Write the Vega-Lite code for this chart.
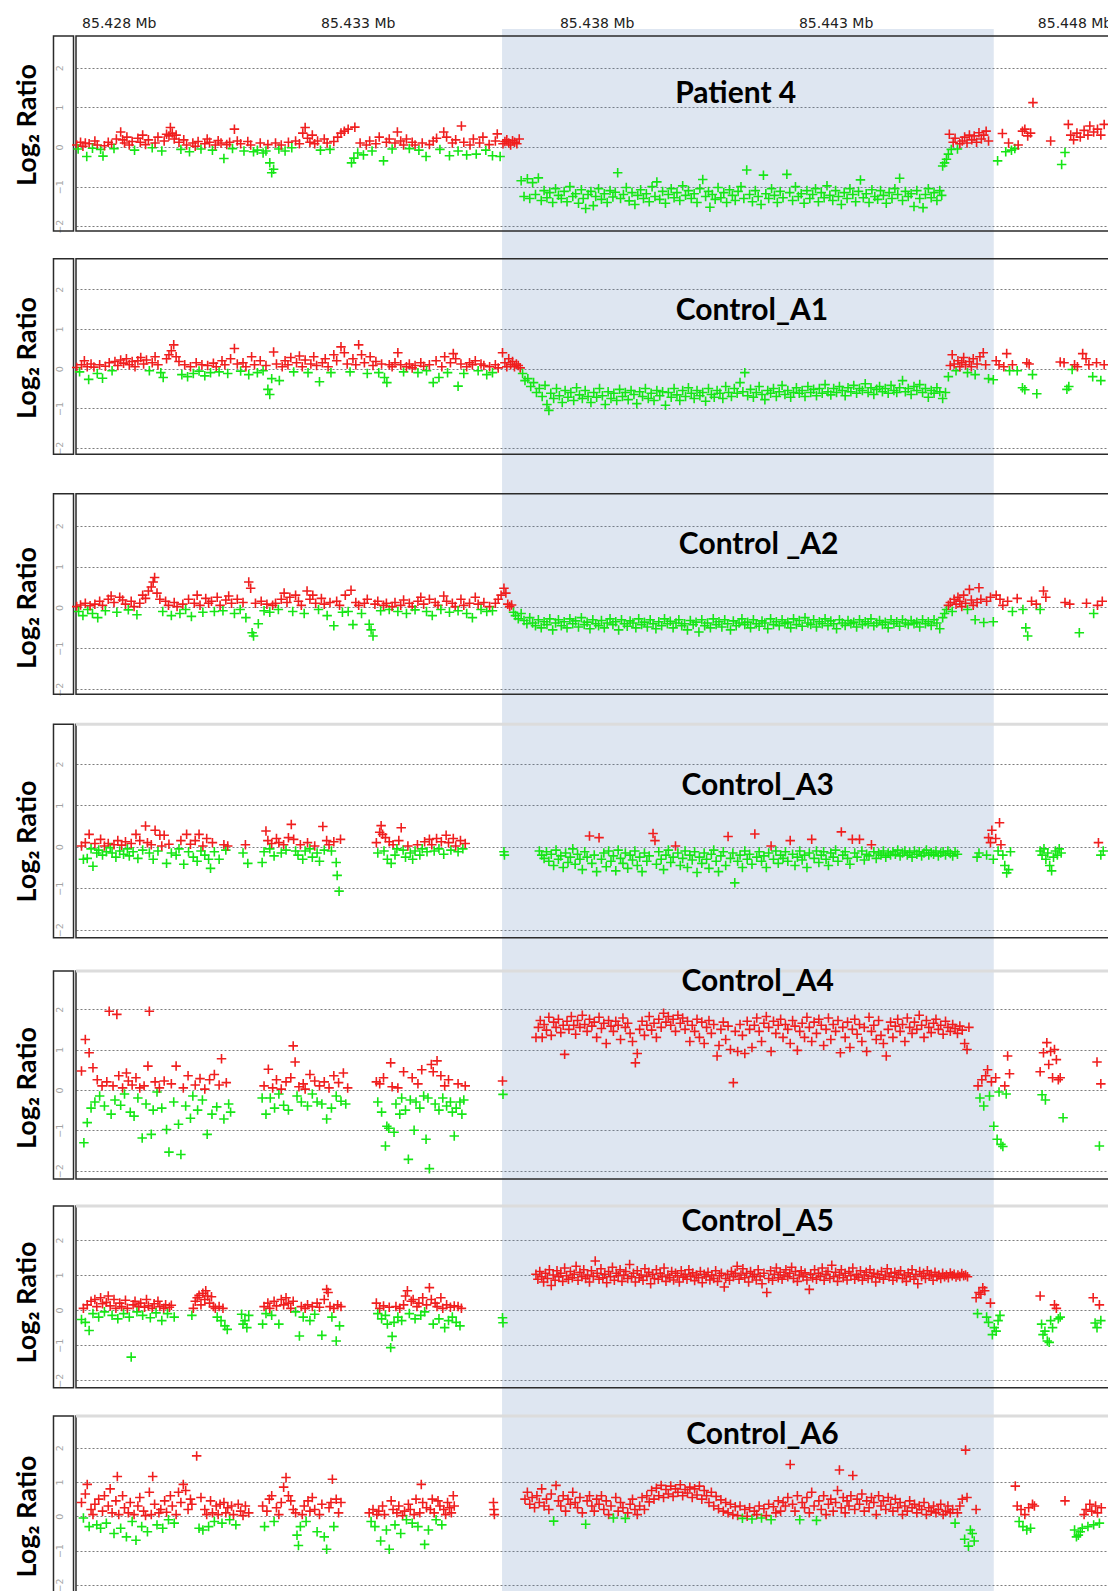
{
"$schema":"https://vega.github.io/schema/vega-lite/v6.json",
"padding":{"left":13,"top":16,"right":0,"bottom":0},
"spacing":0,
"bounds":"flush",
"config":{"view":{"stroke":null},
"axisY":{"grid":true,"gridDash":[2,2],"gridColor":"#7d7d7d","gridWidth":1,"domain":false,"ticks":false,"tickSize":0,"labelAngle":-90,"labelAlign":"center","labelBaseline":"alphabetic","labelPadding":13.3,"labelFont":"DejaVu Sans","labelFontSize":9.5,"labelColor":"#a3a3a3","titleFont":"Lato","titleFontSize":27,"titleFontWeight":"bold","titleColor":"#000000","titleAngle":-90,"titleBaseline":"alphabetic","titleAlign":"center"}},
"datasets":{
"p1":[{"x":85.42712,"y":0.05},{"x":85.42715,"y":-0.05},{"x":85.4272,"y":0.12},{"x":85.42725,"y":0.02},{"x":85.4273,"y":0.1},{"x":85.42733,"y":-0.24},{"x":85.42738,"y":0.08},{"x":85.42745,"y":-0.03},{"x":85.4275,"y":0.15},{"x":85.42755,"y":0.05},{"x":85.42762,"y":-0.06},{"x":85.42767,"y":-0.23},{"x":85.4277,"y":0.03},{"x":85.42778,"y":0.12},{"x":85.42785,"y":0.07},{"x":85.4279,"y":-0.04},{"x":85.42795,"y":0.2},{"x":85.42804,"y":0.38},{"x":85.42808,"y":0.18},{"x":85.42812,"y":0.1},{"x":85.42817,"y":0.25},{"x":85.42822,"y":0.05},{"x":85.42828,"y":0.14},{"x":85.42833,"y":-0.08},{"x":85.4284,"y":0.22},{"x":85.42845,"y":0.12},{"x":85.4285,"y":0.3},{"x":85.42856,"y":0.06},{"x":85.42862,"y":0.18},{"x":85.4287,"y":-0.02},{"x":85.42876,"y":0.1},{"x":85.42882,"y":0.25},{"x":85.4289,"y":-0.1},{"x":85.42895,"y":0.15},{"x":85.429,"y":0.32},{"x":85.42905,"y":0.28},{"x":85.42908,"y":0.49},{"x":85.42912,"y":0.35},{"x":85.42916,"y":0.2},{"x":85.4292,"y":0.3},{"x":85.42926,"y":0.12},{"x":85.4293,"y":-0.06},{"x":85.42936,"y":0.18},{"x":85.42942,"y":0.05},{"x":85.42948,"y":-0.12},{"x":85.42955,"y":0.1},{"x":85.4296,"y":0.02},{"x":85.42966,"y":0.14},{"x":85.42972,"y":-0.05},{"x":85.4298,"y":0.08},{"x":85.42985,"y":0.2},{"x":85.4299,"y":0.12},{"x":85.42996,"y":-0.08},{"x":85.43002,"y":0.05},{"x":85.43008,"y":0.16},{"x":85.43014,"y":0.1},{"x":85.4302,"y":-0.29},{"x":85.43026,"y":0.06},{"x":85.43032,"y":0.12},{"x":85.43038,"y":-0.04},{"x":85.43042,"y":0.45},{"x":85.43048,"y":0.15},{"x":85.43055,"y":0.08},{"x":85.43062,"y":-0.1},{"x":85.4307,"y":0.14},{"x":85.43076,"y":0.05},{"x":85.43082,"y":-0.12},{"x":85.4309,"y":-0.08},{"x":85.43096,"y":0.1},{"x":85.43102,"y":-0.15},{"x":85.43108,"y":-0.1},{"x":85.43112,"y":0.06},{"x":85.43116,"y":-0.4},{"x":85.4312,"y":-0.65},{"x":85.43124,"y":-0.56},{"x":85.43128,"y":0.1},{"x":85.43135,"y":-0.05},{"x":85.4314,"y":0.05},{"x":85.43148,"y":-0.1},{"x":85.43155,"y":0.12},{"x":85.43162,"y":-0.02},{"x":85.4317,"y":0.15},{"x":85.43178,"y":0.08},{"x":85.43185,"y":0.35},{"x":85.4319,"y":0.49},{"x":85.43195,"y":0.22},{"x":85.432,"y":0.12},{"x":85.43205,"y":0.3},{"x":85.4321,"y":0.08},{"x":85.43216,"y":0.15},{"x":85.43222,"y":-0.08},{"x":85.4323,"y":0.2},{"x":85.43236,"y":0.1},{"x":85.43242,"y":-0.06},{"x":85.4325,"y":0.14},{"x":85.43258,"y":0.25},{"x":85.43265,"y":0.35},{"x":85.43272,"y":0.4},{"x":85.4328,"y":0.45},{"x":85.43287,"y":-0.4},{"x":85.43292,"y":-0.28},{"x":85.43294,"y":0.5},{"x":85.433,"y":-0.15},{"x":85.43305,"y":0.1},{"x":85.43312,"y":-0.2},{"x":85.43318,"y":0.05},{"x":85.43325,"y":0.15},{"x":85.4333,"y":-0.1},{"x":85.43338,"y":0.08},{"x":85.43345,"y":0.25},{"x":85.43354,"y":-0.35},{"x":85.4336,"y":0.12},{"x":85.43366,"y":0.2},{"x":85.43372,"y":-0.05},{"x":85.43378,"y":0.1},{"x":85.43383,"y":0.38},{"x":85.4339,"y":0.15},{"x":85.43396,"y":0.05},{"x":85.43402,"y":0.2},{"x":85.43408,"y":-0.04},{"x":85.43414,"y":0.12},{"x":85.4342,"y":0.05},{"x":85.43428,"y":-0.08},{"x":85.43435,"y":0.1},{"x":85.43443,"y":-0.24},{"x":85.4345,"y":0.06},{"x":85.43458,"y":0.15},{"x":85.43465,"y":0.22},{"x":85.43472,"y":-0.06},{"x":85.4348,"y":0.38},{"x":85.43486,"y":0.25},{"x":85.43492,"y":-0.22},{"x":85.43498,"y":0.1},{"x":85.43505,"y":0.18},{"x":85.4351,"y":-0.1},{"x":85.43517,"y":0.53},{"x":85.43522,"y":0.12},{"x":85.43528,"y":-0.2},{"x":85.43535,"y":0.05},{"x":85.43542,"y":0.2},{"x":85.43548,"y":-0.18},{"x":85.43555,"y":0.1},{"x":85.43562,"y":0.25},{"x":85.43568,"y":-0.08},{"x":85.43575,"y":0.06},{"x":85.43582,"y":-0.22},{"x":85.43588,"y":0.15},{"x":85.43592,"y":0.33},{"x":85.43598,"y":-0.24},{"x":85.43604,"y":0.08},{"x":85.43608,"y":0.14},{"x":85.43612,"y":0.18},{"x":85.43616,"y":0.1},{"x":85.4362,"y":0.05},{"x":85.43624,"y":0.16},{"x":85.43628,"y":0.12},{"x":85.43633,"y":0.08},{"x":85.43638,"y":0.2},
{"x":85.43642,"y":-0.85},{"x":85.43648,"y":-1.25},{"x":85.43655,"y":-0.8},{"x":85.4366,"y":-1.3},{"x":85.43666,"y":-0.9},{"x":85.43672,"y":-1.2},{"x":85.43678,"y":-0.78},{"x":85.43684,"y":-1.35},{"x":85.4369,"y":-1.1},{"x":85.43696,"y":-1.28},{"x":85.43702,"y":-1.15},{"x":85.43708,"y":-1.4},{"x":85.43714,"y":-1.05},{"x":85.4372,"y":-1.22},{"x":85.43726,"y":-1.3},{"x":85.43732,"y":-1.12},{"x":85.43738,"y":-1.38},{"x":85.43744,"y":-1.0},{"x":85.4375,"y":-1.25},{"x":85.43756,"y":-1.18},{"x":85.43762,"y":-1.42},{"x":85.43768,"y":-1.08},{"x":85.43772,"y":-1.3},{"x":85.43777,"y":-1.55},{"x":85.43782,"y":-1.2},{"x":85.43788,"y":-1.12},{"x":85.43793,"y":-1.48},{"x":85.43798,"y":-1.25},{"x":85.43804,"y":-1.05},{"x":85.4381,"y":-1.32},{"x":85.43816,"y":-1.18},{"x":85.43822,"y":-1.4},{"x":85.43828,"y":-1.1},{"x":85.43834,"y":-1.26},{"x":85.43839,"y":-1.14},{"x":85.43844,"y":-0.65},{"x":85.4385,"y":-1.3},{"x":85.43856,"y":-1.2},{"x":85.43862,"y":-1.02},{"x":85.43868,"y":-1.36},{"x":85.43874,"y":-1.15},{"x":85.4388,"y":-1.45},{"x":85.43886,"y":-1.22},{"x":85.43892,"y":-1.08},{"x":85.43898,"y":-1.3},{"x":85.43904,"y":-1.18},{"x":85.4391,"y":-1.38},{"x":85.43916,"y":-1.0},{"x":85.43922,"y":-1.25},{"x":85.43926,"y":-0.88},{"x":85.43932,"y":-1.32},{"x":85.43938,"y":-1.12},{"x":85.43944,"y":-1.42},{"x":85.4395,"y":-1.2},{"x":85.43956,"y":-1.05},{"x":85.43962,"y":-1.28},{"x":85.43968,"y":-1.15},{"x":85.43974,"y":-1.35},{"x":85.4398,"y":-0.98},{"x":85.43986,"y":-1.22},{"x":85.43992,"y":-1.1},{"x":85.43998,"y":-1.3},{"x":85.44004,"y":-1.18},{"x":85.4401,"y":-1.4},{"x":85.44016,"y":-1.05},{"x":85.44022,"y":-0.82},{"x":85.44028,"y":-1.25},{"x":85.44034,"y":-1.12},{"x":85.44037,"y":-1.52},{"x":85.44042,"y":-1.2},{"x":85.44048,"y":-1.32},{"x":85.44054,"y":-1.02},{"x":85.4406,"y":-1.28},{"x":85.44066,"y":-1.15},{"x":85.44072,"y":-1.4},{"x":85.44078,"y":-1.08},{"x":85.44084,"y":-1.22},{"x":85.4409,"y":-1.35},{"x":85.44096,"y":-1.12},{"x":85.44102,"y":-1.0},{"x":85.44108,"y":-1.3},{"x":85.44114,"y":-0.58},{"x":85.4412,"y":-1.2},{"x":85.44126,"y":-1.38},{"x":85.44132,"y":-1.1},{"x":85.44138,"y":-1.25},{"x":85.44144,"y":-1.45},{"x":85.44149,"y":-0.71},{"x":85.44154,"y":-1.18},{"x":85.4416,"y":-1.3},{"x":85.44166,"y":-1.05},{"x":85.44172,"y":-1.22},{"x":85.44178,"y":-1.4},{"x":85.44184,"y":-1.12},{"x":85.4419,"y":-1.28},{"x":85.44198,"y":-0.69},{"x":85.44204,"y":-1.15},{"x":85.4421,"y":-1.35},{"x":85.44216,"y":-1.0},{"x":85.44222,"y":-1.25},{"x":85.44228,"y":-1.18},{"x":85.44234,"y":-1.42},{"x":85.4424,"y":-1.1},{"x":85.44246,"y":-1.3},{"x":85.44252,"y":-1.2},{"x":85.44258,"y":-1.05},{"x":85.44264,"y":-1.38},{"x":85.4427,"y":-1.15},{"x":85.44276,"y":-1.28},{"x":85.44282,"y":-0.98},{"x":85.44288,"y":-1.22},{"x":85.44294,"y":-1.35},{"x":85.443,"y":-1.1},{"x":85.44306,"y":-1.25},{"x":85.44312,"y":-1.45},{"x":85.44318,"y":-1.15},{"x":85.44324,"y":-1.3},{"x":85.4433,"y":-1.05},{"x":85.44336,"y":-1.2},{"x":85.44342,"y":-1.38},{"x":85.44348,"y":-1.12},{"x":85.44352,"y":-0.83},{"x":85.44358,"y":-1.28},{"x":85.44364,"y":-1.18},{"x":85.4437,"y":-1.4},{"x":85.44376,"y":-1.08},{"x":85.44382,"y":-1.25},{"x":85.44388,"y":-1.32},{"x":85.44394,"y":-1.1},{"x":85.444,"y":-1.22},{"x":85.44406,"y":-1.42},{"x":85.44412,"y":-1.15},{"x":85.44418,"y":-1.3},{"x":85.44424,"y":-1.05},{"x":85.4443,"y":-1.2},{"x":85.44434,"y":-0.79},{"x":85.4444,"y":-1.35},{"x":85.44446,"y":-1.12},{"x":85.44452,"y":-1.25},{"x":85.44458,"y":-1.18},{"x":85.44464,"y":-1.5},{"x":85.4447,"y":-1.1},{"x":85.44476,"y":-1.3},{"x":85.44483,"y":-1.53},{"x":85.44488,"y":-1.2},{"x":85.44494,"y":-1.05},{"x":85.445,"y":-1.28},{"x":85.44506,"y":-1.15},{"x":85.44512,"y":-1.35},{"x":85.44518,"y":-1.1},{"x":85.44522,"y":-1.22},
{"x":85.44524,"y":-0.48},{"x":85.44528,"y":-0.4},{"x":85.44532,"y":-0.31},{"x":85.44536,"y":-0.18},{"x":85.44538,"y":0.32},{"x":85.44542,"y":-0.06},{"x":85.44546,"y":0.12},{"x":85.4455,"y":0.22},{"x":85.44555,"y":-0.05},{"x":85.4456,"y":0.08},{"x":85.44565,"y":0.15},{"x":85.4457,"y":0.25},{"x":85.44575,"y":0.1},{"x":85.4458,"y":0.3},{"x":85.44585,"y":0.18},{"x":85.4459,"y":0.28},{"x":85.44595,"y":0.12},{"x":85.446,"y":0.36},{"x":85.44605,"y":0.2},{"x":85.4461,"y":0.3},{"x":85.44615,"y":0.4},{"x":85.4462,"y":0.15},{"x":85.44639,"y":-0.35},{"x":85.44649,"y":0.34},{"x":85.44656,"y":-0.12},{"x":85.44662,"y":0.1},{"x":85.44668,"y":-0.08},{"x":85.44675,"y":-0.04},{"x":85.44682,"y":0.05},{"x":85.44691,"y":0.4},{"x":85.44696,"y":0.45},{"x":85.44702,"y":0.28},{"x":85.44708,"y":0.35},{"x":85.44713,"y":1.12},{"x":85.4475,"y":0.15},{"x":85.44773,"y":-0.44},{"x":85.4478,"y":-0.14},{"x":85.44787,"y":0.57},{"x":85.44792,"y":0.3},{"x":85.44798,"y":0.18},{"x":85.44805,"y":0.35},{"x":85.44812,"y":0.25},{"x":85.4482,"y":0.42},{"x":85.44828,"y":0.3},{"x":85.44832,"y":0.53},{"x":85.4484,"y":0.38},{"x":85.44848,"y":0.45},{"x":85.44855,"y":0.3},{"x":85.44862,"y":0.57}],
"p2":[{"x":85.42712,"y":0.03},{"x":85.42718,"y":-0.08},{"x":85.42722,"y":0.1},{"x":85.42728,"y":0.2},{"x":85.42734,"y":0.05},{"x":85.42737,"y":-0.27},{"x":85.42742,"y":0.12},{"x":85.42748,"y":0.04},{"x":85.42755,"y":-0.12},{"x":85.4276,"y":0.1},{"x":85.42766,"y":-0.24},{"x":85.42772,"y":0.06},{"x":85.4278,"y":0.15},{"x":85.42786,"y":-0.05},{"x":85.42792,"y":0.18},{"x":85.42798,"y":0.08},{"x":85.42804,"y":0.22},{"x":85.4281,"y":0.14},{"x":85.42816,"y":0.25},{"x":85.42822,"y":0.1},{"x":85.42828,"y":0.18},{"x":85.42834,"y":0.05},{"x":85.4284,"y":0.2},{"x":85.42846,"y":0.28},{"x":85.42852,"y":0.12},{"x":85.42858,"y":0.22},{"x":85.42864,"y":-0.05},{"x":85.4287,"y":0.15},{"x":85.42876,"y":0.3},{"x":85.42882,"y":0.1},{"x":85.42888,"y":-0.1},{"x":85.42893,"y":-0.22},{"x":85.429,"y":0.25},{"x":85.42905,"y":0.35},{"x":85.4291,"y":0.45},{"x":85.42915,"y":0.6},{"x":85.4292,"y":0.3},{"x":85.42926,"y":0.18},{"x":85.42932,"y":-0.15},{"x":85.42938,"y":0.1},{"x":85.42944,"y":-0.2},{"x":85.4295,"y":0.05},{"x":85.42956,"y":-0.12},{"x":85.42962,"y":0.15},{"x":85.42968,"y":-0.06},{"x":85.42974,"y":0.1},{"x":85.4298,"y":-0.18},{"x":85.42986,"y":0.08},{"x":85.42992,"y":-0.1},{"x":85.42998,"y":0.14},{"x":85.43004,"y":0.05},{"x":85.4301,"y":-0.08},{"x":85.43016,"y":0.2},{"x":85.43022,"y":0.1},{"x":85.43028,"y":-0.12},{"x":85.43034,"y":0.25},{"x":85.43042,"y":0.51},{"x":85.43048,"y":0.12},{"x":85.43055,"y":-0.06},{"x":85.4306,"y":0.15},{"x":85.43066,"y":0.05},{"x":85.43072,"y":-0.15},{"x":85.43078,"y":0.3},{"x":85.43084,"y":0.1},{"x":85.4309,"y":-0.1},{"x":85.43096,"y":0.2},{"x":85.43102,"y":-0.05},{"x":85.43108,"y":0.08},{"x":85.43112,"y":-0.52},{"x":85.43116,"y":-0.65},{"x":85.4312,"y":-0.25},{"x":85.43124,"y":0.42},{"x":85.4313,"y":0.12},{"x":85.43136,"y":-0.3},{"x":85.43142,"y":0.05},{"x":85.43148,"y":0.2},{"x":85.43154,"y":0.1},{"x":85.4316,"y":0.28},{"x":85.43166,"y":-0.08},{"x":85.43172,"y":0.15},{"x":85.43178,"y":0.32},{"x":85.43184,"y":0.05},{"x":85.4319,"y":0.22},{"x":85.43196,"y":-0.1},{"x":85.43202,"y":0.12},{"x":85.43208,"y":0.3},{"x":85.43214,"y":0.08},{"x":85.4322,"y":-0.33},{"x":85.43226,"y":0.15},{"x":85.43232,"y":0.25},{"x":85.43238,"y":0.05},{"x":85.43244,"y":-0.1},{"x":85.4325,"y":0.35},{"x":85.43256,"y":0.2},{"x":85.43265,"y":0.55},{"x":85.43272,"y":0.4},{"x":85.43278,"y":0.12},{"x":85.43284,"y":-0.08},{"x":85.4329,"y":0.25},{"x":85.43296,"y":0.1},{"x":85.43302,"y":0.6},{"x":85.43308,"y":0.35},{"x":85.43314,"y":0.15},{"x":85.4332,"y":-0.12},{"x":85.43326,"y":0.3},{"x":85.43332,"y":0.08},{"x":85.43338,"y":0.18},{"x":85.43344,"y":-0.1},{"x":85.4335,"y":0.12},{"x":85.43356,"y":-0.22},{"x":85.43361,"y":-0.35},{"x":85.43366,"y":0.1},{"x":85.43372,"y":0.05},{"x":85.43378,"y":0.15},{"x":85.43384,"y":0.4},{"x":85.4339,"y":0.1},{"x":85.43396,"y":-0.08},{"x":85.43402,"y":0.05},{"x":85.43408,"y":0.12},{"x":85.43414,"y":0.02},{"x":85.4342,"y":0.08},{"x":85.43426,"y":-0.1},{"x":85.43432,"y":0.15},{"x":85.43438,"y":0.06},{"x":85.43444,"y":-0.05},{"x":85.4345,"y":0.1},{"x":85.43458,"y":-0.35},{"x":85.43464,"y":0.2},{"x":85.4347,"y":-0.22},{"x":85.43476,"y":0.05},{"x":85.43482,"y":0.3},{"x":85.43488,"y":-0.1},{"x":85.43494,"y":0.15},{"x":85.435,"y":0.38},{"x":85.43505,"y":0.25},{"x":85.4351,"y":-0.44},{"x":85.43516,"y":0.12},{"x":85.43522,"y":-0.12},{"x":85.43528,"y":0.05},{"x":85.43534,"y":0.15},{"x":85.4354,"y":0.1},{"x":85.43546,"y":0.2},{"x":85.43552,"y":-0.05},{"x":85.43558,"y":0.12},{"x":85.43564,"y":0.08},{"x":85.4357,"y":-0.15},{"x":85.43576,"y":0.05},{"x":85.43582,"y":-0.1},{"x":85.43588,"y":0.1},{"x":85.43594,"y":0.02},{"x":85.43603,"y":0.4},{"x":85.43608,"y":0.15},{"x":85.43612,"y":0.05},{"x":85.43616,"y":0.25},{"x":85.4362,"y":0.1},{"x":85.43624,"y":0.18},{"x":85.43628,"y":0.05},{"x":85.43632,"y":0.12},{"x":85.43636,"y":0.08},{"x":85.4364,"y":0.02},
{"x":85.43645,"y":-0.12},{"x":85.4365,"y":-0.3},{"x":85.43656,"y":-0.25},{"x":85.43662,"y":-0.45},{"x":85.43668,"y":-0.35},{"x":85.43674,"y":-0.6},{"x":85.4368,"y":-0.5},{"x":85.43686,"y":-0.7},{"x":85.43692,"y":-0.42},{"x":85.43696,"y":-0.9},{"x":85.437,"y":-1.05},{"x":85.43704,"y":-0.62},{"x":85.4371,"y":-0.75},{"x":85.43716,"y":-0.5},{"x":85.43722,"y":-0.68},{"x":85.43728,"y":-0.85},{"x":85.43734,"y":-0.55},{"x":85.4374,"y":-0.72},{"x":85.43746,"y":-0.6},{"x":85.43752,"y":-0.8},{"x":85.43758,"y":-0.48},{"x":85.43764,"y":-0.66},{"x":85.4377,"y":-0.75},{"x":85.43776,"y":-0.55},{"x":85.43782,"y":-0.7},{"x":85.43788,"y":-0.85},{"x":85.43794,"y":-0.6},{"x":85.438,"y":-0.72},{"x":85.43806,"y":-0.5},{"x":85.43812,"y":-0.68},{"x":85.43818,"y":-0.9},{"x":85.43824,"y":-0.58},{"x":85.4383,"y":-0.75},{"x":85.43836,"y":-0.62},{"x":85.43842,"y":-0.8},{"x":85.43848,"y":-0.52},{"x":85.43854,"y":-0.7},{"x":85.4386,"y":-0.6},{"x":85.43866,"y":-0.78},{"x":85.43872,"y":-0.55},{"x":85.43878,"y":-0.65},{"x":85.43884,"y":-0.88},{"x":85.4389,"y":-0.58},{"x":85.43896,"y":-0.7},{"x":85.43902,"y":-0.5},{"x":85.43908,"y":-0.75},{"x":85.43914,"y":-0.62},{"x":85.4392,"y":-0.8},{"x":85.43926,"y":-0.55},{"x":85.43932,"y":-0.68},{"x":85.43938,"y":-0.58},{"x":85.43944,"y":-0.92},{"x":85.4395,"y":-0.6},{"x":85.43956,"y":-0.72},{"x":85.43962,"y":-0.5},{"x":85.43968,"y":-0.66},{"x":85.43974,"y":-0.8},{"x":85.4398,"y":-0.55},{"x":85.43986,"y":-0.7},{"x":85.43992,"y":-0.48},{"x":85.43998,"y":-0.62},{"x":85.44004,"y":-0.75},{"x":85.4401,"y":-0.55},{"x":85.44016,"y":-0.68},{"x":85.44022,"y":-0.6},{"x":85.44028,"y":-0.82},{"x":85.44034,"y":-0.5},{"x":85.4404,"y":-0.65},{"x":85.44046,"y":-0.72},{"x":85.44052,"y":-0.55},{"x":85.44058,"y":-0.62},{"x":85.44064,"y":-0.75},{"x":85.4407,"y":-0.45},{"x":85.44076,"y":-0.6},{"x":85.44082,"y":-0.7},{"x":85.44088,"y":-0.5},{"x":85.44094,"y":-0.62},{"x":85.441,"y":-0.35},{"x":85.44106,"y":-0.58},{"x":85.4411,"y":-0.1},{"x":85.44116,"y":-0.68},{"x":85.44122,"y":-0.52},{"x":85.44128,"y":-0.72},{"x":85.44134,"y":-0.6},{"x":85.4414,"y":-0.45},{"x":85.44146,"y":-0.65},{"x":85.44152,"y":-0.78},{"x":85.44158,"y":-0.55},{"x":85.44164,"y":-0.62},{"x":85.4417,"y":-0.5},{"x":85.44176,"y":-0.7},{"x":85.44182,"y":-0.58},{"x":85.44188,"y":-0.42},{"x":85.44194,"y":-0.65},{"x":85.442,"y":-0.55},{"x":85.44206,"y":-0.72},{"x":85.44212,"y":-0.6},{"x":85.44218,"y":-0.48},{"x":85.44224,"y":-0.62},{"x":85.4423,"y":-0.55},{"x":85.44236,"y":-0.7},{"x":85.44242,"y":-0.45},{"x":85.44248,"y":-0.6},{"x":85.44254,"y":-0.52},{"x":85.4426,"y":-0.68},{"x":85.44266,"y":-0.5},{"x":85.44272,"y":-0.62},{"x":85.44278,"y":-0.4},{"x":85.44284,"y":-0.58},{"x":85.4429,"y":-0.66},{"x":85.44296,"y":-0.5},{"x":85.44302,"y":-0.6},{"x":85.44308,"y":-0.45},{"x":85.44314,"y":-0.55},{"x":85.4432,"y":-0.68},{"x":85.44326,"y":-0.48},{"x":85.44332,"y":-0.58},{"x":85.44338,"y":-0.42},{"x":85.44344,"y":-0.62},{"x":85.4435,"y":-0.5},{"x":85.44356,"y":-0.55},{"x":85.44362,"y":-0.38},{"x":85.44368,"y":-0.6},{"x":85.44374,"y":-0.48},{"x":85.4438,"y":-0.65},{"x":85.44386,"y":-0.52},{"x":85.44392,"y":-0.45},{"x":85.44398,"y":-0.58},{"x":85.44404,"y":-0.5},{"x":85.4441,"y":-0.62},{"x":85.44416,"y":-0.42},{"x":85.44422,"y":-0.55},{"x":85.44428,"y":-0.6},{"x":85.44434,"y":-0.48},{"x":85.4444,"y":-0.3},{"x":85.44446,"y":-0.58},{"x":85.44452,"y":-0.5},{"x":85.44458,"y":-0.65},{"x":85.44464,"y":-0.45},{"x":85.4447,"y":-0.55},{"x":85.44476,"y":-0.4},{"x":85.44482,"y":-0.6},{"x":85.44488,"y":-0.5},{"x":85.44494,"y":-0.72},{"x":85.445,"y":-0.55},{"x":85.44506,"y":-0.62},{"x":85.44512,"y":-0.48},{"x":85.44518,"y":-0.58},{"x":85.44524,"y":-0.75},{"x":85.4453,"y":-0.6},
{"x":85.44536,"y":-0.2},{"x":85.4454,"y":0.08},{"x":85.44544,"y":0.35},{"x":85.44548,"y":0.12},{"x":85.44552,"y":-0.05},{"x":85.44556,"y":0.2},{"x":85.4456,"y":0.05},{"x":85.44564,"y":0.15},{"x":85.44568,"y":0.28},{"x":85.44572,"y":0.1},{"x":85.44576,"y":-0.1},{"x":85.4458,"y":0.18},{"x":85.44584,"y":0.05},{"x":85.44588,"y":0.25},{"x":85.44592,"y":-0.15},{"x":85.44596,"y":0.12},{"x":85.44602,"y":0.3},{"x":85.44609,"y":0.4},{"x":85.44614,"y":0.1},{"x":85.4462,"y":-0.25},{"x":85.4463,"y":-0.28},{"x":85.44636,"y":0.2},{"x":85.44642,"y":0.1},{"x":85.44652,"y":0.05},{"x":85.44658,"y":0.38},{"x":85.44664,"y":-0.05},{"x":85.4467,"y":0.1},{"x":85.4468,"y":-0.05},{"x":85.44691,"y":-0.48},{"x":85.44696,"y":-0.53},{"x":85.447,"y":0.15},{"x":85.44705,"y":0.12},{"x":85.44712,"y":-0.15},{"x":85.44721,"y":-0.63},{"x":85.4477,"y":0.17},{"x":85.44778,"y":0.15},{"x":85.44784,"y":-0.52},{"x":85.44788,"y":-0.45},{"x":85.44795,"y":-0.02},{"x":85.448,"y":0.1},{"x":85.44806,"y":0.05},{"x":85.44817,"y":0.38},{"x":85.44824,"y":0.25},{"x":85.4483,"y":0.1},{"x":85.44838,"y":-0.2},{"x":85.44846,"y":0.15},{"x":85.44855,"y":-0.3},{"x":85.44862,"y":0.1}],
"p3":[{"x":85.42712,"y":0.02},{"x":85.42716,"y":-0.1},{"x":85.4272,"y":0.06},{"x":85.42725,"y":-0.2},{"x":85.4273,"y":0.1},{"x":85.42735,"y":-0.05},{"x":85.4274,"y":0.04},{"x":85.42745,"y":-0.15},{"x":85.4275,"y":0.08},{"x":85.42756,"y":-0.25},{"x":85.4276,"y":0.15},{"x":85.42766,"y":0.05},{"x":85.42772,"y":-0.08},{"x":85.42778,"y":0.2},{"x":85.42784,"y":0.28},{"x":85.4279,"y":0.12},{"x":85.42796,"y":-0.12},{"x":85.42802,"y":0.25},{"x":85.42808,"y":0.18},{"x":85.42814,"y":0.08},{"x":85.4282,"y":-0.06},{"x":85.42826,"y":0.15},{"x":85.42832,"y":0.02},{"x":85.42838,"y":-0.18},{"x":85.42844,"y":0.1},{"x":85.4285,"y":0.3},{"x":85.42856,"y":0.22},{"x":85.42862,"y":0.4},{"x":85.42868,"y":0.5},{"x":85.42872,"y":0.62},{"x":85.42875,"y":0.73},{"x":85.4288,"y":0.35},{"x":85.42886,"y":0.2},{"x":85.42892,"y":-0.1},{"x":85.42898,"y":0.15},{"x":85.42904,"y":0.05},{"x":85.4291,"y":-0.2},{"x":85.42916,"y":0.12},{"x":85.42922,"y":0.02},{"x":85.42928,"y":-0.15},{"x":85.42934,"y":0.08},{"x":85.4294,"y":-0.05},{"x":85.42946,"y":0.2},{"x":85.42952,"y":-0.22},{"x":85.42958,"y":0.1},{"x":85.42964,"y":0.3},{"x":85.4297,"y":0.05},{"x":85.42976,"y":-0.12},{"x":85.42982,"y":0.22},{"x":85.42988,"y":0.1},{"x":85.42994,"y":0.15},{"x":85.43,"y":-0.1},{"x":85.43006,"y":0.25},{"x":85.43012,"y":0.05},{"x":85.43018,"y":-0.08},{"x":85.43024,"y":0.18},{"x":85.4303,"y":0.28},{"x":85.43036,"y":0.1},{"x":85.43042,"y":-0.15},{"x":85.43048,"y":0.2},{"x":85.43054,"y":-0.05},{"x":85.4306,"y":0.12},{"x":85.43066,"y":-0.25},{"x":85.43072,"y":0.62},{"x":85.43076,"y":0.47},{"x":85.43079,"y":-0.62},{"x":85.43082,"y":-0.7},{"x":85.43086,"y":0.1},{"x":85.43092,"y":-0.4},{"x":85.43098,"y":0.15},{"x":85.43104,"y":-0.08},{"x":85.4311,"y":0.08},{"x":85.43116,"y":-0.12},{"x":85.43122,"y":0.05},{"x":85.43128,"y":0.1},{"x":85.43134,"y":-0.05},{"x":85.4314,"y":0.2},{"x":85.43146,"y":0.35},{"x":85.43152,"y":0.12},{"x":85.43158,"y":0.25},{"x":85.43164,"y":-0.1},{"x":85.4317,"y":0.3},{"x":85.43176,"y":0.15},{"x":85.43182,"y":0.05},{"x":85.43188,"y":-0.15},{"x":85.43194,"y":0.4},{"x":85.432,"y":0.2},{"x":85.43206,"y":0.3},{"x":85.43212,"y":0.1},{"x":85.43218,"y":-0.05},{"x":85.43224,"y":0.22},{"x":85.4323,"y":0.08},{"x":85.43236,"y":-0.2},{"x":85.43242,"y":0.12},{"x":85.4325,"y":-0.45},{"x":85.43256,"y":0.15},{"x":85.43262,"y":0.05},{"x":85.43268,"y":-0.12},{"x":85.43274,"y":0.3},{"x":85.4328,"y":-0.1},{"x":85.43286,"y":0.42},{"x":85.4329,"y":-0.42},{"x":85.43296,"y":0.12},{"x":85.43302,"y":0.05},{"x":85.43308,"y":-0.15},{"x":85.43314,"y":0.1},{"x":85.4332,"y":0.2},{"x":85.43324,"y":-0.41},{"x":85.43328,"y":-0.55},{"x":85.43332,"y":-0.7},{"x":85.43336,"y":0.08},{"x":85.43342,"y":0.15},{"x":85.43348,"y":-0.08},{"x":85.43354,"y":0.05},{"x":85.4336,"y":0.1},{"x":85.43366,"y":-0.05},{"x":85.43372,"y":0.02},{"x":85.43378,"y":0.12},{"x":85.43384,"y":-0.1},{"x":85.4339,"y":0.05},{"x":85.43396,"y":0.18},{"x":85.43402,"y":-0.15},{"x":85.43408,"y":0.1},{"x":85.43414,"y":0.02},{"x":85.4342,"y":-0.06},{"x":85.43426,"y":0.15},{"x":85.43432,"y":0.25},{"x":85.43438,"y":0.08},{"x":85.43444,"y":-0.1},{"x":85.4345,"y":0.2},{"x":85.43456,"y":-0.2},{"x":85.43462,"y":0.12},{"x":85.43468,"y":0.05},{"x":85.43474,"y":-0.05},{"x":85.4348,"y":0.28},{"x":85.43486,"y":0.15},{"x":85.43492,"y":-0.12},{"x":85.43498,"y":0.1},{"x":85.43504,"y":0.02},{"x":85.4351,"y":-0.08},{"x":85.43516,"y":0.2},{"x":85.43522,"y":0.05},{"x":85.43528,"y":-0.15},{"x":85.43534,"y":0.1},{"x":85.4354,"y":-0.25},{"x":85.43546,"y":0.25},{"x":85.43552,"y":0.08},{"x":85.43558,"y":-0.05},{"x":85.43564,"y":0.12},{"x":85.4357,"y":-0.1},{"x":85.43576,"y":0.02},{"x":85.43582,"y":-0.08},{"x":85.43588,"y":0.1},{"x":85.43594,"y":0.2},{"x":85.436,"y":0.3},{"x":85.43606,"y":0.47},{"x":85.4361,"y":0.35},{"x":85.43614,"y":0.08},{"x":85.43618,"y":0.02},{"x":85.43622,"y":0.06},
{"x":85.43626,"y":-0.12},{"x":85.4363,"y":-0.2},{"x":85.43636,"y":-0.28},{"x":85.43642,"y":-0.15},{"x":85.43648,"y":-0.32},{"x":85.43654,"y":-0.4},{"x":85.4366,"y":-0.25},{"x":85.43666,"y":-0.38},{"x":85.43672,"y":-0.45},{"x":85.43678,"y":-0.3},{"x":85.43684,"y":-0.5},{"x":85.4369,"y":-0.35},{"x":85.43696,"y":-0.42},{"x":85.43702,"y":-0.28},{"x":85.43708,"y":-0.55},{"x":85.43714,"y":-0.38},{"x":85.4372,"y":-0.3},{"x":85.43726,"y":-0.45},{"x":85.43732,"y":-0.35},{"x":85.43738,"y":-0.5},{"x":85.43744,"y":-0.28},{"x":85.4375,"y":-0.4},{"x":85.43756,"y":-0.33},{"x":85.43762,"y":-0.48},{"x":85.43768,"y":-0.25},{"x":85.43774,"y":-0.42},{"x":85.4378,"y":-0.36},{"x":85.43786,"y":-0.52},{"x":85.43792,"y":-0.3},{"x":85.43798,"y":-0.4},{"x":85.43804,"y":-0.45},{"x":85.4381,"y":-0.32},{"x":85.43816,"y":-0.5},{"x":85.43822,"y":-0.38},{"x":85.43828,"y":-0.28},{"x":85.43834,"y":-0.42},{"x":85.4384,"y":-0.35},{"x":85.43846,"y":-0.55},{"x":85.43852,"y":-0.3},{"x":85.43858,"y":-0.4},{"x":85.43864,"y":-0.46},{"x":85.4387,"y":-0.33},{"x":85.43876,"y":-0.38},{"x":85.43882,"y":-0.5},{"x":85.43888,"y":-0.28},{"x":85.43894,"y":-0.42},{"x":85.439,"y":-0.36},{"x":85.43906,"y":-0.48},{"x":85.43912,"y":-0.3},{"x":85.43918,"y":-0.4},{"x":85.43924,"y":-0.52},{"x":85.4393,"y":-0.35},{"x":85.43936,"y":-0.45},{"x":85.43942,"y":-0.28},{"x":85.43948,"y":-0.4},{"x":85.43954,"y":-0.34},{"x":85.4396,"y":-0.5},{"x":85.43966,"y":-0.38},{"x":85.43972,"y":-0.3},{"x":85.43978,"y":-0.45},{"x":85.43984,"y":-0.4},{"x":85.4399,"y":-0.55},{"x":85.43996,"y":-0.32},{"x":85.44002,"y":-0.42},{"x":85.44008,"y":-0.36},{"x":85.44014,"y":-0.6},{"x":85.4402,"y":-0.3},{"x":85.44026,"y":-0.45},{"x":85.44032,"y":-0.38},{"x":85.44038,"y":-0.5},{"x":85.44044,"y":-0.28},{"x":85.4405,"y":-0.42},{"x":85.44056,"y":-0.35},{"x":85.44062,"y":-0.48},{"x":85.44068,"y":-0.3},{"x":85.44074,"y":-0.4},{"x":85.4408,"y":-0.55},{"x":85.44086,"y":-0.33},{"x":85.44092,"y":-0.45},{"x":85.44098,"y":-0.38},{"x":85.44104,"y":-0.28},{"x":85.4411,"y":-0.42},{"x":85.44116,"y":-0.36},{"x":85.44122,"y":-0.5},{"x":85.44128,"y":-0.3},{"x":85.44134,"y":-0.4},{"x":85.4414,"y":-0.46},{"x":85.44146,"y":-0.33},{"x":85.44152,"y":-0.38},{"x":85.44158,"y":-0.52},{"x":85.44164,"y":-0.28},{"x":85.4417,"y":-0.42},{"x":85.44176,"y":-0.35},{"x":85.44182,"y":-0.45},{"x":85.44188,"y":-0.3},{"x":85.44194,"y":-0.4},{"x":85.442,"y":-0.36},{"x":85.44206,"y":-0.5},{"x":85.44212,"y":-0.28},{"x":85.44218,"y":-0.42},{"x":85.44224,"y":-0.32},{"x":85.4423,"y":-0.46},{"x":85.44236,"y":-0.25},{"x":85.44242,"y":-0.38},{"x":85.44248,"y":-0.42},{"x":85.44254,"y":-0.3},{"x":85.4426,"y":-0.48},{"x":85.44266,"y":-0.35},{"x":85.44272,"y":-0.4},{"x":85.44278,"y":-0.28},{"x":85.44284,"y":-0.45},{"x":85.4429,"y":-0.33},{"x":85.44296,"y":-0.4},{"x":85.44302,"y":-0.52},{"x":85.44308,"y":-0.3},{"x":85.44314,"y":-0.38},{"x":85.4432,"y":-0.44},{"x":85.44326,"y":-0.32},{"x":85.44332,"y":-0.4},{"x":85.44338,"y":-0.36},{"x":85.44344,"y":-0.48},{"x":85.4435,"y":-0.3},{"x":85.44356,"y":-0.42},{"x":85.44362,"y":-0.35},{"x":85.44368,"y":-0.4},{"x":85.44374,"y":-0.28},{"x":85.4438,"y":-0.45},{"x":85.44386,"y":-0.38},{"x":85.44392,"y":-0.32},{"x":85.44398,"y":-0.42},{"x":85.44404,"y":-0.36},{"x":85.4441,"y":-0.5},{"x":85.44416,"y":-0.3},{"x":85.44422,"y":-0.4},{"x":85.44428,"y":-0.35},{"x":85.44434,"y":-0.46},{"x":85.4444,"y":-0.3},{"x":85.44446,"y":-0.38},{"x":85.44452,"y":-0.42},{"x":85.44458,"y":-0.32},{"x":85.44464,"y":-0.4},{"x":85.4447,"y":-0.36},{"x":85.44476,"y":-0.48},{"x":85.44482,"y":-0.3},{"x":85.44488,"y":-0.4},{"x":85.44494,"y":-0.35},{"x":85.445,"y":-0.44},{"x":85.44506,"y":-0.3},{"x":85.44512,"y":-0.38},{"x":85.44518,"y":-0.52},{"x":85.44524,"y":-0.25},
{"x":85.44528,"y":-0.15},{"x":85.44532,"y":-0.05},{"x":85.44536,"y":0.05},{"x":85.4454,"y":0.12},{"x":85.44544,"y":-0.1},{"x":85.44548,"y":0.2},{"x":85.44552,"y":0.08},{"x":85.44556,"y":0.25},{"x":85.4456,"y":0.15},{"x":85.44564,"y":0.02},{"x":85.44568,"y":0.3},{"x":85.44572,"y":0.1},{"x":85.44576,"y":-0.05},{"x":85.4458,"y":0.44},{"x":85.44584,"y":0.18},{"x":85.44588,"y":0.05},{"x":85.44592,"y":-0.3},{"x":85.44596,"y":0.12},{"x":85.446,"y":0.48},{"x":85.44604,"y":0.2},{"x":85.4461,"y":-0.37},{"x":85.44616,"y":0.15},{"x":85.44624,"y":0.25},{"x":85.4463,"y":-0.35},{"x":85.44636,"y":0.3},{"x":85.44644,"y":0.2},{"x":85.4465,"y":0.05},{"x":85.4466,"y":0.15},{"x":85.4467,"y":-0.1},{"x":85.4468,"y":0.22},{"x":85.44692,"y":-0.05},{"x":85.44698,"y":-0.5},{"x":85.44702,"y":-0.7},{"x":85.4471,"y":0.15},{"x":85.4472,"y":0.08},{"x":85.44728,"y":-0.05},{"x":85.44735,"y":0.4},{"x":85.4474,"y":0.25},{"x":85.4478,"y":0.12},{"x":85.4479,"y":0.08},{"x":85.4481,"y":-0.62},{"x":85.44825,"y":0.1},{"x":85.4484,"y":-0.15},{"x":85.44848,"y":0.05},{"x":85.44858,"y":0.15}],
"p4":[{"x":85.42722,"y":0.02},{"x":85.42726,"y":-0.3},{"x":85.4273,"y":0.1},{"x":85.42734,"y":-0.28},{"x":85.42738,"y":0.3},{"x":85.42742,"y":-0.05},{"x":85.42746,"y":-0.47},{"x":85.4275,"y":0.08},{"x":85.42754,"y":-0.15},{"x":85.42758,"y":-0.08},{"x":85.42762,"y":0.18},{"x":85.42766,"y":-0.2},{"x":85.4277,"y":0.02},{"x":85.42774,"y":-0.12},{"x":85.42778,"y":0.08},{"x":85.42782,"y":-0.02},{"x":85.42786,"y":-0.15},{"x":85.4279,"y":0.05},{"x":85.42794,"y":-0.25},{"x":85.42798,"y":0.15},{"x":85.42802,"y":-0.1},{"x":85.42806,"y":0.04},{"x":85.4281,"y":-0.18},{"x":85.42814,"y":0.12},{"x":85.42818,"y":-0.05},{"x":85.42822,"y":-0.22},{"x":85.42826,"y":0.08},{"x":85.4283,"y":-0.12},{"x":85.42836,"y":0.3},{"x":85.4284,"y":-0.28},{"x":85.42844,"y":0.15},{"x":85.4285,"y":-0.08},{"x":85.42856,"y":0.5},{"x":85.4286,"y":0.1},{"x":85.42864,"y":-0.15},{"x":85.42868,"y":0.05},{"x":85.42872,"y":-0.3},{"x":85.42876,"y":0.4},{"x":85.42882,"y":-0.1},{"x":85.42886,"y":0.28},{"x":85.4289,"y":0.02},{"x":85.42895,"y":0.28},{"x":85.429,"y":-0.4},{"x":85.42905,"y":0.06},{"x":85.4291,"y":-0.15},{"x":85.4292,"y":-0.2},{"x":85.42926,"y":-0.05},{"x":85.4293,"y":0.15},{"x":85.42936,"y":-0.42},{"x":85.42942,"y":0.3},{"x":85.42946,"y":-0.12},{"x":85.4295,"y":0.06},{"x":85.42956,"y":-0.25},{"x":85.4296,"y":0.15},{"x":85.42964,"y":-0.35},{"x":85.42968,"y":0.3},{"x":85.42972,"y":-0.1},{"x":85.42976,"y":0.02},{"x":85.4298,"y":-0.2},{"x":85.42984,"y":0.2},{"x":85.42988,"y":-0.3},{"x":85.42992,"y":-0.52},{"x":85.42996,"y":0.1},{"x":85.43,"y":-0.12},{"x":85.4301,"y":-0.3},{"x":85.4302,"y":0.05},{"x":85.43024,"y":-0.08},{"x":85.43028,"y":0.02},{"x":85.4306,"y":-0.15},{"x":85.43065,"y":0.05},{"x":85.4307,"y":-0.4},{"x":85.431,"y":-0.38},{"x":85.43104,"y":-0.12},{"x":85.43108,"y":0.38},{"x":85.43112,"y":0.15},{"x":85.43116,"y":-0.05},{"x":85.4312,"y":0.08},{"x":85.43125,"y":-0.22},{"x":85.4313,"y":0.2},{"x":85.43135,"y":0.1},{"x":85.4314,"y":-0.15},{"x":85.43145,"y":0.05},{"x":85.4315,"y":-0.08},{"x":85.43155,"y":0.22},{"x":85.43161,"y":0.54},{"x":85.43166,"y":0.18},{"x":85.4317,"y":-0.1},{"x":85.43175,"y":-0.2},{"x":85.4318,"y":0.05},{"x":85.43185,"y":-0.3},{"x":85.4319,"y":-0.1},{"x":85.43195,"y":0.1},{"x":85.432,"y":-0.05},{"x":85.43205,"y":-0.25},{"x":85.4321,"y":0.02},{"x":85.43215,"y":-0.15},{"x":85.4322,"y":-0.35},{"x":85.43227,"y":0.49},{"x":85.4323,"y":-0.08},{"x":85.43235,"y":0.15},{"x":85.4324,"y":0.05},{"x":85.43245,"y":-0.1},{"x":85.4325,"y":0.12},{"x":85.43255,"y":-0.38},{"x":85.43257,"y":-0.69},{"x":85.43261,"y":-1.07},{"x":85.43264,"y":0.18},{"x":85.43339,"y":0.1},{"x":85.43342,"y":-0.15},{"x":85.43346,"y":0.35},{"x":85.43349,"y":0.51},{"x":85.43352,"y":0.3},{"x":85.43355,"y":-0.1},{"x":85.43358,"y":0.22},{"x":85.43362,"y":-0.3},{"x":85.43366,"y":0.12},{"x":85.4337,"y":-0.4},{"x":85.43374,"y":0.05},{"x":85.43378,"y":-0.2},{"x":85.43382,"y":-0.05},{"x":85.43386,"y":0.15},{"x":85.43391,"y":0.46},{"x":85.43395,"y":-0.08},{"x":85.434,"y":-0.25},{"x":85.43405,"y":0.02},{"x":85.4341,"y":-0.15},{"x":85.43415,"y":-0.3},{"x":85.4342,"y":-0.1},{"x":85.43425,"y":0.05},{"x":85.4343,"y":-0.2},{"x":85.43435,"y":-0.05},{"x":85.4344,"y":0.12},{"x":85.43445,"y":-0.12},{"x":85.4345,"y":0.18},{"x":85.43455,"y":0.05},{"x":85.4346,"y":-0.1},{"x":85.43465,"y":0.2},{"x":85.4347,"y":-0.05},{"x":85.43475,"y":0.12},{"x":85.4348,"y":-0.18},{"x":85.43485,"y":0.28},{"x":85.4349,"y":0.1},{"x":85.43495,"y":-0.08},{"x":85.435,"y":0.2},{"x":85.43505,"y":0.02},{"x":85.4351,"y":-0.12},{"x":85.43515,"y":0.15},{"x":85.4352,"y":-0.05},{"x":85.43525,"y":0.08},{"x":85.43606,"y":-0.12},{"x":85.43607,"y":-0.2},
{"x":85.4368,"y":-0.1},{"x":85.43685,"y":-0.2},{"x":85.4369,"y":-0.28},{"x":85.43695,"y":-0.12},{"x":85.437,"y":-0.35},{"x":85.43705,"y":-0.18},{"x":85.4371,"y":-0.45},{"x":85.43715,"y":-0.08},{"x":85.4372,"y":-0.3},{"x":85.43725,"y":-0.22},{"x":85.4373,"y":-0.5},{"x":85.43735,"y":-0.15},{"x":85.4374,"y":-0.38},{"x":85.43745,"y":-0.25},{"x":85.4375,"y":-0.05},{"x":85.43755,"y":-0.42},{"x":85.4376,"y":-0.18},{"x":85.43765,"y":-0.3},{"x":85.4377,"y":-0.55},{"x":85.43775,"y":-0.12},{"x":85.4378,"y":-0.25},{"x":85.43785,"y":0.26},{"x":85.4379,"y":-0.4},{"x":85.43795,"y":-0.2},{"x":85.438,"y":-0.6},{"x":85.43805,"y":0.22},{"x":85.4381,"y":-0.3},{"x":85.43815,"y":-0.15},{"x":85.4382,"y":-0.48},{"x":85.43825,"y":-0.1},{"x":85.4383,"y":-0.35},{"x":85.43835,"y":-0.22},{"x":85.4384,"y":-0.58},{"x":85.43845,"y":-0.08},{"x":85.4385,"y":-0.28},{"x":85.43855,"y":-0.4},{"x":85.4386,"y":-0.15},{"x":85.43865,"y":-0.52},{"x":85.4387,"y":-0.2},{"x":85.43875,"y":-0.32},{"x":85.4388,"y":-0.1},{"x":85.43885,"y":-0.45},{"x":85.4389,"y":-0.25},{"x":85.43895,"y":-0.6},{"x":85.439,"y":-0.15},{"x":85.43905,"y":-0.35},{"x":85.4391,"y":-0.22},{"x":85.43918,"y":0.32},{"x":85.43922,"y":0.15},{"x":85.43925,"y":-0.42},{"x":85.4393,"y":-0.12},{"x":85.43935,"y":-0.3},{"x":85.4394,"y":-0.55},{"x":85.43945,"y":-0.2},{"x":85.4395,"y":-0.08},{"x":85.43955,"y":-0.38},{"x":85.4396,"y":-0.25},{"x":85.43965,"y":0.02},{"x":85.4397,"y":-0.15},{"x":85.43975,"y":-0.45},{"x":85.4398,"y":-0.28},{"x":85.43985,"y":-0.1},{"x":85.4399,"y":-0.5},{"x":85.43995,"y":-0.2},{"x":85.44,"y":-0.32},{"x":85.44005,"y":-0.12},{"x":85.4401,"y":-0.62},{"x":85.44015,"y":-0.25},{"x":85.4402,"y":-0.4},{"x":85.44025,"y":-0.15},{"x":85.4403,"y":-0.3},{"x":85.44035,"y":-0.52},{"x":85.4404,"y":-0.18},{"x":85.44045,"y":-0.08},{"x":85.4405,"y":-0.35},{"x":85.44055,"y":-0.6},{"x":85.4406,"y":-0.22},{"x":85.44065,"y":-0.12},{"x":85.4407,"y":-0.45},{"x":85.44075,"y":0.25},{"x":85.4408,"y":-0.28},{"x":85.44085,"y":-0.15},{"x":85.44089,"y":-0.87},{"x":85.44095,"y":-0.35},{"x":85.441,"y":-0.2},{"x":85.44105,"y":-0.5},{"x":85.4411,"y":-0.1},{"x":85.44115,"y":-0.3},{"x":85.4412,"y":-0.18},{"x":85.44125,"y":-0.42},{"x":85.44131,"y":0.31},{"x":85.44135,"y":-0.25},{"x":85.4414,"y":-0.12},{"x":85.44145,"y":-0.35},{"x":85.4415,"y":-0.22},{"x":85.44155,"y":-0.5},{"x":85.4416,"y":-0.15},{"x":85.44165,"y":0.02},{"x":85.4417,"y":-0.3},{"x":85.44175,"y":-0.1},{"x":85.4418,"y":-0.4},{"x":85.44185,"y":-0.2},{"x":85.4419,"y":-0.28},{"x":85.44195,"y":-0.12},{"x":85.442,"y":-0.35},{"x":85.44205,"y":0.15},{"x":85.4421,"y":-0.18},{"x":85.44215,"y":-0.45},{"x":85.4422,"y":-0.25},{"x":85.44225,"y":-0.1},{"x":85.4423,"y":-0.32},{"x":85.44235,"y":-0.2},{"x":85.4424,"y":-0.5},{"x":85.44245,"y":-0.15},{"x":85.4425,"y":0.18},{"x":85.44255,"y":-0.28},{"x":85.4426,"y":-0.1},{"x":85.44265,"y":-0.38},{"x":85.4427,"y":-0.2},{"x":85.44275,"y":-0.12},{"x":85.4428,"y":-0.3},{"x":85.44285,"y":-0.45},{"x":85.4429,"y":-0.15},{"x":85.44295,"y":-0.25},{"x":85.443,"y":-0.08},{"x":85.44305,"y":-0.35},{"x":85.44312,"y":0.36},{"x":85.44315,"y":-0.2},{"x":85.4432,"y":-0.12},{"x":85.44325,"y":-0.28},{"x":85.4433,"y":-0.42},{"x":85.44335,"y":0.18},{"x":85.4434,"y":-0.15},{"x":85.44345,"y":-0.25},{"x":85.4435,"y":0.18},{"x":85.44355,"y":-0.1},{"x":85.4436,"y":-0.32},{"x":85.44365,"y":-0.18},{"x":85.4437,"y":-0.22},{"x":85.44375,"y":0.05},{"x":85.4438,"y":-0.12},{"x":85.44385,"y":-0.28},{"x":85.4439,"y":-0.15},{"x":85.44395,"y":-0.2},{"x":85.444,"y":-0.1},{"x":85.44405,"y":-0.25},{"x":85.4441,"y":-0.15},{"x":85.44415,"y":-0.2},{"x":85.4442,"y":-0.12},{"x":85.44425,"y":-0.18},{"x":85.4443,"y":-0.08},{"x":85.44435,"y":-0.22},{"x":85.4444,"y":-0.15},{"x":85.44445,"y":-0.1},{"x":85.4445,"y":-0.2},{"x":85.44455,"y":-0.14},{"x":85.4446,"y":-0.25},{"x":85.44465,"y":-0.1},{"x":85.4447,"y":-0.18},{"x":85.44475,"y":-0.12},{"x":85.4448,"y":-0.22},{"x":85.44485,"y":-0.15},{"x":85.4449,"y":-0.08},{"x":85.44495,"y":-0.2},{"x":85.445,"y":-0.14},{"x":85.44505,"y":-0.18},{"x":85.4451,"y":-0.1},{"x":85.44515,"y":-0.22},{"x":85.4452,"y":-0.15},{"x":85.44525,"y":-0.12},{"x":85.4453,"y":-0.2},{"x":85.44535,"y":-0.1},{"x":85.4454,"y":-0.16},{"x":85.44545,"y":-0.22},{"x":85.4455,"y":-0.12},{"x":85.44555,"y":-0.18},
{"x":85.44596,"y":-0.25},{"x":85.446,"y":-0.15},{"x":85.44616,"y":-0.2},{"x":85.4462,"y":0.22},{"x":85.44624,"y":0.1},{"x":85.44627,"y":0.4},{"x":85.4463,"y":-0.3},{"x":85.44635,"y":0.2},{"x":85.4464,"y":-0.1},{"x":85.44643,"y":0.58},{"x":85.44646,"y":0.05},{"x":85.4465,"y":-0.2},{"x":85.44654,"y":-0.45},{"x":85.44658,"y":-0.63},{"x":85.44662,"y":-0.55},{"x":85.44666,"y":-0.12},{"x":85.44728,"y":-0.1},{"x":85.44732,"y":-0.2},{"x":85.44736,"y":-0.05},{"x":85.4474,"y":-0.3},{"x":85.44744,"y":-0.15},{"x":85.44748,"y":-0.45},{"x":85.44752,"y":-0.58},{"x":85.44756,"y":-0.25},{"x":85.4476,"y":-0.1},{"x":85.44764,"y":-0.2},{"x":85.44768,"y":-0.05},{"x":85.44772,"y":-0.15},{"x":85.4485,"y":0.1},{"x":85.44855,"y":-0.2},{"x":85.4486,"y":-0.1}],
"p5":[{"x":85.42722,"y":0.47},{"x":85.42727,"y":-1.31},{"x":85.4273,"y":1.25},{"x":85.42734,"y":-0.81},{"x":85.42738,"y":0.92},{"x":85.42742,"y":-0.45},{"x":85.42746,"y":0.55},{"x":85.4275,"y":-0.3},{"x":85.42755,"y":0.25},{"x":85.4276,"y":-0.15},{"x":85.42765,"y":0.1},{"x":85.4277,"y":-0.4},{"x":85.42775,"y":0.2},{"x":85.4278,"y":1.95},{"x":85.42784,"y":-0.6},{"x":85.42788,"y":0.1},{"x":85.42792,"y":-0.25},{"x":85.42796,"y":1.87},{"x":85.428,"y":0.35},{"x":85.42804,"y":-0.38},{"x":85.42808,"y":0.05},{"x":85.42812,"y":-0.1},{"x":85.42816,"y":0.42},{"x":85.4282,"y":0.22},{"x":85.42824,"y":-0.55},{"x":85.42828,"y":0.12},{"x":85.42832,"y":-0.65},{"x":85.42836,"y":0.3},{"x":85.4284,"y":-0.2},{"x":85.42844,"y":0.05},{"x":85.42849,"y":-1.19},{"x":85.42853,"y":0.1},{"x":85.42857,"y":-0.35},{"x":85.42861,"y":0.59},{"x":85.42864,"y":1.95},{"x":85.42868,"y":-1.1},{"x":85.42872,"y":-0.5},{"x":85.42876,"y":0.2},{"x":85.4288,"y":-0.05},{"x":85.42885,"y":0.05},{"x":85.4289,"y":-0.45},{"x":85.42895,"y":0.22},{"x":85.429,"y":-0.98},{"x":85.42905,"y":-1.54},{"x":85.4291,"y":0.15},{"x":85.42915,"y":-0.3},{"x":85.4292,"y":0.59},{"x":85.42925,"y":-0.85},{"x":85.4293,"y":-1.6},{"x":85.42935,"y":0.05},{"x":85.4294,"y":-0.4},{"x":85.42945,"y":0.35},{"x":85.4295,"y":-0.7},{"x":85.42955,"y":-0.15},{"x":85.4296,"y":0.12},{"x":85.42965,"y":-0.5},{"x":85.4297,"y":0.28},{"x":85.42975,"y":-0.25},{"x":85.4298,"y":0.02},{"x":85.42985,"y":-1.1},{"x":85.4299,"y":0.25},{"x":85.42995,"y":-0.6},{"x":85.43,"y":0.38},{"x":85.43005,"y":-0.42},{"x":85.4301,"y":0.12},{"x":85.43015,"y":0.77},{"x":85.4302,"y":-0.72},{"x":85.43025,"y":0.18},{"x":85.4303,"y":-0.35},{"x":85.43034,"y":-0.55},{"x":85.431,"y":-0.2},{"x":85.43104,"y":0.1},{"x":85.43108,"y":-0.6},{"x":85.43113,"y":0.51},{"x":85.43117,"y":-0.2},{"x":85.43122,"y":0.05},{"x":85.43126,"y":-0.45},{"x":85.4313,"y":0.25},{"x":85.43135,"y":-0.1},{"x":85.4314,"y":0.02},{"x":85.43145,"y":-0.38},{"x":85.4315,"y":0.2},{"x":85.43155,"y":-0.5},{"x":85.4316,"y":0.3},{"x":85.43165,"y":1.09},{"x":85.43169,"y":0.69},{"x":85.43173,"y":-0.15},{"x":85.43177,"y":0.08},{"x":85.43182,"y":-0.3},{"x":85.43186,"y":0.15},{"x":85.4319,"y":0.02},{"x":85.43195,"y":-0.4},{"x":85.432,"y":0.38},{"x":85.43205,"y":-0.1},{"x":85.4321,"y":0.22},{"x":85.43215,"y":-0.3},{"x":85.4322,"y":0.1},{"x":85.43225,"y":-0.35},{"x":85.4323,"y":0.2},{"x":85.43235,"y":-0.72},{"x":85.4324,"y":0.05},{"x":85.43245,"y":-0.45},{"x":85.4325,"y":0.35},{"x":85.43255,"y":-0.15},{"x":85.4326,"y":0.18},{"x":85.43265,"y":-0.28},{"x":85.4327,"y":0.42},{"x":85.43275,"y":-0.35},{"x":85.43279,"y":0.05},{"x":85.43339,"y":0.2},{"x":85.43342,"y":-0.3},{"x":85.43346,"y":0.15},{"x":85.4335,"y":-0.55},{"x":85.43354,"y":0.3},{"x":85.43358,"y":-1.39},{"x":85.43361,"y":-0.9},{"x":85.43365,"y":-0.95},{"x":85.43369,"y":0.67},{"x":85.43372,"y":0.08},{"x":85.43376,"y":-1.05},{"x":85.4338,"y":-0.35},{"x":85.43384,"y":0.05},{"x":85.43388,"y":-0.6},{"x":85.43392,"y":-0.2},{"x":85.43396,"y":0.45},{"x":85.434,"y":-0.5},{"x":85.43406,"y":-1.72},{"x":85.4341,"y":-0.25},{"x":85.43414,"y":0.3},{"x":85.43418,"y":-1.0},{"x":85.43422,"y":-0.3},{"x":85.43426,"y":0.15},{"x":85.4343,"y":-0.45},{"x":85.43434,"y":0.5},{"x":85.43438,"y":-0.15},{"x":85.43443,"y":-1.22},{"x":85.43447,"y":-0.2},{"x":85.4345,"y":-1.95},{"x":85.43454,"y":0.63},{"x":85.43458,"y":0.45},{"x":85.43462,"y":-0.35},{"x":85.43466,"y":0.72},{"x":85.4347,"y":-0.5},{"x":85.43474,"y":0.35},{"x":85.43478,"y":-0.2},{"x":85.43482,"y":0.1},{"x":85.43486,"y":-0.4},{"x":85.4349,"y":0.25},{"x":85.43494,"y":-0.3},{"x":85.43498,"y":-0.55},{"x":85.43502,"y":-1.14},{"x":85.43506,"y":-0.45},{"x":85.4351,"y":0.15},{"x":85.43514,"y":-0.3},{"x":85.43518,"y":-0.6},{"x":85.43522,"y":-0.25},{"x":85.43525,"y":0.1},{"x":85.43603,"y":0.22},{"x":85.43604,"y":-0.11},
{"x":85.43673,"y":1.3},{"x":85.43678,"y":1.55},{"x":85.43682,"y":1.72},{"x":85.43686,"y":1.3},{"x":85.4369,"y":1.62},{"x":85.43695,"y":1.48},{"x":85.437,"y":1.8},{"x":85.43705,"y":1.35},{"x":85.4371,"y":1.68},{"x":85.43715,"y":1.55},{"x":85.4372,"y":1.75},{"x":85.43725,"y":1.42},{"x":85.4373,"y":1.6},{"x":85.43733,"y":0.88},{"x":85.43738,"y":1.7},{"x":85.43742,"y":1.5},{"x":85.43747,"y":1.82},{"x":85.43752,"y":1.6},{"x":85.43756,"y":1.38},{"x":85.4376,"y":1.72},{"x":85.43765,"y":1.55},{"x":85.4377,"y":1.85},{"x":85.43775,"y":1.62},{"x":85.4378,"y":1.45},{"x":85.43785,"y":1.75},{"x":85.4379,"y":1.58},{"x":85.43795,"y":1.68},{"x":85.438,"y":1.3},{"x":85.43805,"y":1.8},{"x":85.4381,"y":1.52},{"x":85.43815,"y":1.65},{"x":85.4382,"y":1.15},{"x":85.43825,"y":1.72},{"x":85.4383,"y":1.58},{"x":85.43835,"y":1.45},{"x":85.4384,"y":1.7},{"x":85.43845,"y":1.6},{"x":85.4385,"y":1.25},{"x":85.43855,"y":1.78},{"x":85.4386,"y":1.55},{"x":85.43865,"y":1.65},{"x":85.4387,"y":1.4},{"x":85.43875,"y":1.2},{"x":85.43881,"y":0.67},{"x":85.43885,"y":0.9},{"x":85.4389,"y":1.5},{"x":85.43895,"y":1.7},{"x":85.439,"y":1.35},{"x":85.43905,"y":1.6},{"x":85.4391,"y":1.82},{"x":85.43915,"y":1.48},{"x":85.4392,"y":1.65},{"x":85.43925,"y":1.3},{"x":85.4393,"y":1.75},{"x":85.43935,"y":1.55},{"x":85.4394,"y":1.9},{"x":85.43945,"y":1.68},{"x":85.4395,"y":1.82},{"x":85.43955,"y":1.6},{"x":85.4396,"y":1.75},{"x":85.43965,"y":1.45},{"x":85.4397,"y":1.85},{"x":85.43975,"y":1.65},{"x":85.4398,"y":1.78},{"x":85.43985,"y":1.5},{"x":85.4399,"y":1.7},{"x":85.43995,"y":1.2},{"x":85.44,"y":1.6},{"x":85.44005,"y":1.45},{"x":85.4401,"y":1.75},{"x":85.44015,"y":1.3},{"x":85.4402,"y":1.68},{"x":85.44025,"y":1.15},{"x":85.4403,"y":1.55},{"x":85.44035,"y":1.72},{"x":85.4404,"y":1.4},{"x":85.44045,"y":1.62},{"x":85.44052,"y":0.84},{"x":85.44056,"y":1.1},{"x":85.4406,"y":1.5},{"x":85.44065,"y":1.68},{"x":85.4407,"y":1.25},{"x":85.44075,"y":1.58},{"x":85.4408,"y":1.0},{"x":85.44086,"y":0.18},{"x":85.4409,"y":1.45},{"x":85.44095,"y":0.95},{"x":85.441,"y":1.62},{"x":85.44105,"y":1.35},{"x":85.4411,"y":0.9},{"x":85.44115,"y":1.7},{"x":85.4412,"y":1.5},{"x":85.44125,"y":1.05},{"x":85.4413,"y":1.6},{"x":85.44135,"y":1.78},{"x":85.4414,"y":1.45},{"x":85.44145,"y":1.2},{"x":85.4415,"y":1.65},{"x":85.44155,"y":1.82},{"x":85.4416,"y":1.55},{"x":85.44165,"y":0.95},{"x":85.4417,"y":1.7},{"x":85.44175,"y":1.4},{"x":85.4418,"y":1.6},{"x":85.44185,"y":1.75},{"x":85.4419,"y":1.3},{"x":85.44195,"y":1.62},{"x":85.442,"y":1.5},{"x":85.44205,"y":1.15},{"x":85.4421,"y":1.72},{"x":85.44215,"y":1.58},{"x":85.4422,"y":0.98},{"x":85.44225,"y":1.45},{"x":85.4423,"y":1.65},{"x":85.44235,"y":1.3},{"x":85.4424,"y":1.8},{"x":85.44245,"y":1.55},{"x":85.4425,"y":1.2},{"x":85.44255,"y":1.68},{"x":85.4426,"y":1.4},{"x":85.44265,"y":1.75},{"x":85.4427,"y":1.6},{"x":85.44275,"y":1.1},{"x":85.4428,"y":1.5},{"x":85.44285,"y":1.78},{"x":85.4429,"y":1.25},{"x":85.44295,"y":1.62},{"x":85.443,"y":1.45},{"x":85.44305,"y":1.72},{"x":85.4431,"y":0.92},{"x":85.44315,"y":1.55},{"x":85.4432,"y":1.3},{"x":85.44325,"y":1.68},{"x":85.4433,"y":1.05},{"x":85.44335,"y":1.5},{"x":85.4434,"y":1.75},{"x":85.44345,"y":1.38},{"x":85.4435,"y":1.62},{"x":85.44355,"y":1.2},{"x":85.4436,"y":1.55},{"x":85.44365,"y":0.95},{"x":85.4437,"y":1.8},{"x":85.44375,"y":1.45},{"x":85.4438,"y":1.6},{"x":85.44385,"y":1.25},{"x":85.4439,"y":1.72},{"x":85.44395,"y":1.35},{"x":85.444,"y":1.15},{"x":85.44406,"y":0.84},{"x":85.4441,"y":1.5},{"x":85.44415,"y":1.68},{"x":85.4442,"y":1.3},{"x":85.44425,"y":1.58},{"x":85.4443,"y":1.75},{"x":85.44435,"y":1.45},{"x":85.4444,"y":1.62},{"x":85.44445,"y":1.2},{"x":85.4445,"y":1.78},{"x":85.44455,"y":1.55},{"x":85.4446,"y":1.4},{"x":85.44465,"y":1.68},{"x":85.4447,"y":1.5},{"x":85.44475,"y":1.85},{"x":85.4448,"y":1.6},{"x":85.44485,"y":1.3},{"x":85.4449,"y":1.72},{"x":85.44495,"y":1.55},{"x":85.445,"y":1.42},{"x":85.44505,"y":1.65},{"x":85.4451,"y":1.75},{"x":85.44515,"y":1.5},{"x":85.4452,"y":1.6},{"x":85.44525,"y":1.38},{"x":85.4453,"y":1.7},{"x":85.44535,"y":1.55},{"x":85.4454,"y":1.45},{"x":85.44545,"y":1.62},{"x":85.4455,"y":1.52},{"x":85.44555,"y":1.4},{"x":85.4456,"y":1.58},{"x":85.44565,"y":1.48},{"x":85.4457,"y":1.15},{"x":85.44575,"y":1.0},{"x":85.44579,"y":1.55},
{"x":85.44598,"y":0.1},{"x":85.44602,"y":-0.2},{"x":85.44606,"y":0.25},{"x":85.4461,"y":-0.4},{"x":85.44614,"y":0.35},{"x":85.44618,"y":0.5},{"x":85.44622,"y":-0.15},{"x":85.44626,"y":0.2},{"x":85.44631,"y":-0.9},{"x":85.44635,"y":0.3},{"x":85.44638,"y":-1.22},{"x":85.44642,"y":-0.05},{"x":85.44646,"y":-1.35},{"x":85.4465,"y":-1.4},{"x":85.44654,"y":0.1},{"x":85.44657,"y":-0.1},{"x":85.4466,"y":0.84},{"x":85.44664,"y":0.4},{"x":85.44728,"y":0.45},{"x":85.44732,"y":-0.12},{"x":85.44735,"y":0.92},{"x":85.44739,"y":-0.25},{"x":85.44742,"y":1.17},{"x":85.44746,"y":0.63},{"x":85.4475,"y":0.95},{"x":85.44754,"y":0.3},{"x":85.44758,"y":1.0},{"x":85.44762,"y":0.75},{"x":85.44766,"y":0.25},{"x":85.4477,"y":0.3},{"x":85.44776,"y":-0.69},{"x":85.44847,"y":0.69},{"x":85.44852,"y":-1.39},{"x":85.44855,"y":0.15}],
"p6":[{"x":85.42722,"y":-0.27},{"x":85.42726,"y":0.05},{"x":85.4273,"y":-0.35},{"x":85.42734,"y":0.15},{"x":85.42738,"y":-0.58},{"x":85.42742,"y":0.25},{"x":85.42746,"y":-0.1},{"x":85.4275,"y":0.3},{"x":85.42754,"y":0.1},{"x":85.42758,"y":-0.2},{"x":85.42762,"y":0.35},{"x":85.42766,"y":0.18},{"x":85.4277,"y":-0.05},{"x":85.42774,"y":0.22},{"x":85.42778,"y":0.4},{"x":85.42782,"y":0.12},{"x":85.42786,"y":-0.15},{"x":85.4279,"y":0.3},{"x":85.42794,"y":0.05},{"x":85.42798,"y":-0.25},{"x":85.42802,"y":0.2},{"x":85.42806,"y":0.1},{"x":85.4281,"y":-0.1},{"x":85.42814,"y":0.28},{"x":85.42818,"y":0.05},{"x":85.42822,"y":-0.2},{"x":85.42826,"y":-1.34},{"x":85.4283,"y":0.15},{"x":85.42834,"y":0.25},{"x":85.42838,"y":-0.05},{"x":85.42842,"y":0.1},{"x":85.42846,"y":0.2},{"x":85.4285,"y":-0.15},{"x":85.42854,"y":0.08},{"x":85.42858,"y":0.3},{"x":85.42862,"y":0.12},{"x":85.42866,"y":-0.22},{"x":85.4287,"y":0.05},{"x":85.42874,"y":0.18},{"x":85.42878,"y":-0.08},{"x":85.42882,"y":0.25},{"x":85.42886,"y":0.1},{"x":85.4289,"y":-0.3},{"x":85.42894,"y":0.05},{"x":85.42898,"y":0.15},{"x":85.42902,"y":-0.1},{"x":85.42906,"y":0.08},{"x":85.4291,"y":0.14},{"x":85.42916,"y":-0.2},{"x":85.42953,"y":-0.15},{"x":85.42956,"y":0.05},{"x":85.4296,"y":0.25},{"x":85.42964,"y":0.35},{"x":85.42968,"y":0.42},{"x":85.42972,"y":0.15},{"x":85.42976,"y":0.48},{"x":85.4298,"y":0.3},{"x":85.42982,"y":0.55},{"x":85.42986,"y":0.4},{"x":85.4299,"y":0.2},{"x":85.42994,"y":0.38},{"x":85.42998,"y":0.1},{"x":85.43002,"y":0.05},{"x":85.43006,"y":-0.2},{"x":85.4301,"y":0.1},{"x":85.43014,"y":-0.3},{"x":85.43018,"y":0.05},{"x":85.43022,"y":-0.45},{"x":85.43027,"y":-0.55},{"x":85.43057,"y":-0.12},{"x":85.4306,"y":-0.4},{"x":85.43064,"y":-0.3},{"x":85.43068,"y":-0.5},{"x":85.43072,"y":-0.15},{"x":85.43101,"y":-0.4},{"x":85.43104,"y":0.1},{"x":85.43108,"y":-0.1},{"x":85.43112,"y":0.2},{"x":85.43116,"y":0.05},{"x":85.4312,"y":-0.15},{"x":85.43125,"y":0.25},{"x":85.4313,"y":0.12},{"x":85.43135,"y":-0.4},{"x":85.4314,"y":0.3},{"x":85.43145,"y":0.15},{"x":85.4315,"y":0.35},{"x":85.43155,"y":0.2},{"x":85.4316,"y":0.05},{"x":85.43165,"y":0.25},{"x":85.4317,"y":-0.05},{"x":85.43178,"y":-0.74},{"x":85.43182,"y":0.1},{"x":85.43186,"y":-0.2},{"x":85.4319,"y":0.05},{"x":85.43195,"y":0.15},{"x":85.432,"y":-0.3},{"x":85.43205,"y":0.1},{"x":85.4321,"y":-0.12},{"x":85.43215,"y":0.2},{"x":85.4322,"y":0.08},{"x":85.43225,"y":-0.72},{"x":85.4323,"y":0.3},{"x":85.43235,"y":0.59},{"x":85.43238,"y":0.5},{"x":85.43242,"y":0.1},{"x":85.43246,"y":-0.2},{"x":85.4325,"y":0.05},{"x":85.43255,"y":-0.88},{"x":85.43258,"y":0.15},{"x":85.43262,"y":-0.45},{"x":85.43265,"y":0.1},{"x":85.43339,"y":0.2},{"x":85.43342,"y":-0.1},{"x":85.43346,"y":0.05},{"x":85.4335,"y":-0.25},{"x":85.43354,"y":0.12},{"x":85.43358,"y":-0.15},{"x":85.43362,"y":-0.4},{"x":85.43366,"y":0.08},{"x":85.43369,"y":-1.07},{"x":85.43372,"y":-0.75},{"x":85.43376,"y":-0.35},{"x":85.4338,"y":0.1},{"x":85.43384,"y":-0.2},{"x":85.43388,"y":0.05},{"x":85.43392,"y":-0.3},{"x":85.43396,"y":0.15},{"x":85.434,"y":0.4},{"x":85.43404,"y":0.55},{"x":85.43408,"y":-0.1},{"x":85.43412,"y":0.25},{"x":85.43416,"y":0.3},{"x":85.4342,"y":-0.25},{"x":85.43424,"y":0.1},{"x":85.43428,"y":0.2},{"x":85.43432,"y":-0.15},{"x":85.43436,"y":0.35},{"x":85.4344,"y":-0.05},{"x":85.43444,"y":0.15},{"x":85.4345,"y":0.64},{"x":85.43454,"y":0.3},{"x":85.43458,"y":-0.4},{"x":85.43462,"y":0.2},{"x":85.43466,"y":0.1},{"x":85.4347,"y":-0.25},{"x":85.43474,"y":0.35},{"x":85.43478,"y":0.05},{"x":85.43482,"y":-0.5},{"x":85.43486,"y":0.15},{"x":85.4349,"y":-0.3},{"x":85.43494,"y":0.08},{"x":85.43498,"y":-0.2},{"x":85.43502,"y":0.12},{"x":85.43506,"y":-0.35},{"x":85.4351,"y":0.1},{"x":85.43514,"y":-0.45},{"x":85.43517,"y":0.05},{"x":85.43603,"y":-0.22},{"x":85.43604,"y":-0.36},
{"x":85.43673,"y":1.02},{"x":85.43677,"y":0.88},{"x":85.43681,"y":1.1},{"x":85.43685,"y":0.95},{"x":85.43689,"y":0.8},{"x":85.43693,"y":1.05},{"x":85.43697,"y":0.9},{"x":85.43701,"y":1.15},{"x":85.43705,"y":0.7},{"x":85.43709,"y":1.0},{"x":85.43713,"y":0.85},{"x":85.43717,"y":1.12},{"x":85.43721,"y":0.95},{"x":85.43725,"y":1.05},{"x":85.43729,"y":0.82},{"x":85.43733,"y":1.2},{"x":85.43737,"y":0.98},{"x":85.43741,"y":0.88},{"x":85.43745,"y":1.1},{"x":85.43749,"y":0.92},{"x":85.43753,"y":1.02},{"x":85.43757,"y":1.25},{"x":85.43761,"y":0.85},{"x":85.43765,"y":1.08},{"x":85.43769,"y":0.95},{"x":85.43773,"y":1.15},{"x":85.43777,"y":0.9},{"x":85.43781,"y":1.0},{"x":85.43785,"y":0.8},{"x":85.43789,"y":1.12},{"x":85.43793,"y":0.96},{"x":85.43797,"y":1.4},{"x":85.43801,"y":1.05},{"x":85.43805,"y":0.88},{"x":85.43809,"y":1.18},{"x":85.43813,"y":0.92},{"x":85.43817,"y":1.02},{"x":85.43821,"y":0.78},{"x":85.43825,"y":1.1},{"x":85.43829,"y":0.95},{"x":85.43833,"y":1.22},{"x":85.43837,"y":0.85},{"x":85.43841,"y":1.05},{"x":85.43845,"y":0.98},{"x":85.43849,"y":1.15},{"x":85.43853,"y":0.82},{"x":85.43857,"y":1.0},{"x":85.43861,"y":1.1},{"x":85.43865,"y":0.9},{"x":85.43869,"y":1.3},{"x":85.43873,"y":0.95},{"x":85.43877,"y":1.05},{"x":85.43881,"y":0.8},{"x":85.43885,"y":1.12},{"x":85.43889,"y":0.92},{"x":85.43893,"y":1.0},{"x":85.43897,"y":0.85},{"x":85.43901,"y":1.18},{"x":85.43905,"y":0.96},{"x":85.43909,"y":1.08},{"x":85.43913,"y":0.75},{"x":85.43917,"y":1.02},{"x":85.43921,"y":0.9},{"x":85.43925,"y":1.15},{"x":85.43929,"y":0.88},{"x":85.43933,"y":1.05},{"x":85.43937,"y":0.95},{"x":85.43941,"y":1.2},{"x":85.43945,"y":0.82},{"x":85.43949,"y":1.0},{"x":85.43953,"y":0.92},{"x":85.43957,"y":1.1},{"x":85.43961,"y":0.86},{"x":85.43965,"y":1.05},{"x":85.43969,"y":0.98},{"x":85.43973,"y":0.8},{"x":85.43977,"y":1.12},{"x":85.43981,"y":0.94},{"x":85.43985,"y":1.02},{"x":85.43989,"y":0.88},{"x":85.43993,"y":1.15},{"x":85.43997,"y":0.96},{"x":85.44001,"y":1.06},{"x":85.44005,"y":0.84},{"x":85.44009,"y":1.0},{"x":85.44013,"y":0.92},{"x":85.44017,"y":1.1},{"x":85.44021,"y":0.78},{"x":85.44025,"y":1.02},{"x":85.44029,"y":0.95},{"x":85.44033,"y":1.08},{"x":85.44037,"y":0.86},{"x":85.44041,"y":1.0},{"x":85.44045,"y":0.9},{"x":85.44049,"y":1.12},{"x":85.44053,"y":0.82},{"x":85.44057,"y":0.98},{"x":85.44061,"y":1.05},{"x":85.44067,"y":0.66},{"x":85.4407,"y":0.9},{"x":85.44074,"y":1.02},{"x":85.44078,"y":0.85},{"x":85.44082,"y":1.1},{"x":85.44086,"y":0.95},{"x":85.4409,"y":1.05},{"x":85.44094,"y":1.25},{"x":85.44098,"y":0.88},{"x":85.44102,"y":1.0},{"x":85.44106,"y":1.18},{"x":85.4411,"y":0.92},{"x":85.44114,"y":1.05},{"x":85.44118,"y":0.8},{"x":85.44122,"y":1.1},{"x":85.44126,"y":0.95},{"x":85.4413,"y":1.02},{"x":85.44134,"y":0.86},{"x":85.44138,"y":1.15},{"x":85.44142,"y":0.96},{"x":85.44146,"y":0.75},{"x":85.4415,"y":1.05},{"x":85.44156,"y":0.5},{"x":85.4416,"y":0.9},{"x":85.44164,"y":1.12},{"x":85.44168,"y":0.85},{"x":85.44172,"y":1.02},{"x":85.44176,"y":1.2},{"x":85.4418,"y":0.92},{"x":85.44184,"y":1.08},{"x":85.44188,"y":0.88},{"x":85.44192,"y":1.0},{"x":85.44196,"y":1.15},{"x":85.442,"y":0.95},{"x":85.44204,"y":1.05},{"x":85.44208,"y":1.22},{"x":85.44212,"y":0.9},{"x":85.44216,"y":1.1},{"x":85.4422,"y":0.82},{"x":85.44224,"y":1.0},{"x":85.44228,"y":1.12},{"x":85.44232,"y":0.95},{"x":85.44236,"y":1.06},{"x":85.4424,"y":0.86},{"x":85.44245,"y":0.59},{"x":85.44248,"y":1.02},{"x":85.44252,"y":0.92},{"x":85.44256,"y":1.15},{"x":85.4426,"y":0.88},{"x":85.44264,"y":1.05},{"x":85.44268,"y":0.96},{"x":85.44272,"y":1.2},{"x":85.44276,"y":0.85},{"x":85.4428,"y":1.02},{"x":85.44284,"y":1.1},{"x":85.44288,"y":0.9},{"x":85.44292,"y":1.28},{"x":85.44296,"y":0.95},{"x":85.443,"y":1.08},{"x":85.44304,"y":0.82},{"x":85.44308,"y":1.0},{"x":85.44312,"y":1.15},{"x":85.44316,"y":0.92},{"x":85.4432,"y":1.05},{"x":85.44324,"y":0.86},{"x":85.44328,"y":1.1},{"x":85.44332,"y":0.98},{"x":85.44336,"y":1.2},{"x":85.4434,"y":0.88},{"x":85.44344,"y":1.02},{"x":85.44348,"y":0.94},{"x":85.44352,"y":1.12},{"x":85.44356,"y":0.85},{"x":85.4436,"y":1.0},{"x":85.44364,"y":1.08},{"x":85.44368,"y":0.9},{"x":85.44372,"y":1.15},{"x":85.44376,"y":0.96},{"x":85.4438,"y":1.05},{"x":85.44384,"y":0.8},{"x":85.44388,"y":1.02},{"x":85.44392,"y":0.92},{"x":85.44396,"y":1.1},{"x":85.444,"y":0.88},{"x":85.44404,"y":1.0},{"x":85.44408,"y":1.18},{"x":85.44412,"y":0.95},{"x":85.44416,"y":1.05},{"x":85.4442,"y":0.85},{"x":85.44424,"y":1.08},{"x":85.44428,"y":0.92},{"x":85.44432,"y":1.02},{"x":85.44436,"y":1.12},{"x":85.4444,"y":0.9},{"x":85.44444,"y":1.0},{"x":85.44448,"y":0.82},{"x":85.44452,"y":1.06},{"x":85.44456,"y":0.95},{"x":85.4446,"y":1.15},{"x":85.44464,"y":0.88},{"x":85.44468,"y":1.02},{"x":85.44472,"y":0.75},{"x":85.44476,"y":1.1},{"x":85.4448,"y":0.96},{"x":85.44484,"y":1.05},{"x":85.44488,"y":0.9},{"x":85.44492,"y":1.12},{"x":85.44496,"y":0.98},{"x":85.445,"y":1.02},{"x":85.44504,"y":0.85},{"x":85.44508,"y":1.08},{"x":85.44512,"y":0.95},{"x":85.44516,"y":1.0},{"x":85.4452,"y":0.9},{"x":85.44524,"y":1.05},{"x":85.44528,"y":0.95},{"x":85.44532,"y":1.0},{"x":85.44536,"y":0.92},{"x":85.4454,"y":1.06},{"x":85.44544,"y":0.98},{"x":85.44548,"y":1.02},{"x":85.44552,"y":0.94},{"x":85.44556,"y":1.0},{"x":85.4456,"y":0.96},{"x":85.44564,"y":1.04},{"x":85.44568,"y":0.98},{"x":85.44572,"y":1.0},{"x":85.44576,"y":0.95},
{"x":85.44594,"y":0.35},{"x":85.44597,"y":-0.1},{"x":85.446,"y":0.5},{"x":85.44604,"y":0.45},{"x":85.44608,"y":0.64},{"x":85.44612,"y":0.55},{"x":85.44616,"y":-0.2},{"x":85.4462,"y":-0.35},{"x":85.44624,"y":0.2},{"x":85.44628,"y":-0.7},{"x":85.44632,"y":-0.5},{"x":85.44636,"y":-0.6},{"x":85.4464,"y":-0.3},{"x":85.44644,"y":-0.15},{"x":85.44728,"y":0.4},{"x":85.44731,"y":-0.4},{"x":85.44734,"y":-0.7},{"x":85.44738,"y":-0.6},{"x":85.44743,"y":-0.88},{"x":85.44747,"y":-0.92},{"x":85.4475,"y":-0.3},{"x":85.44754,"y":-0.5},{"x":85.44758,"y":0.15},{"x":85.44762,"y":0.05},{"x":85.44766,"y":-0.25},{"x":85.4477,"y":-0.2},{"x":85.44839,"y":0.35},{"x":85.44843,"y":-0.37},{"x":85.44847,"y":-0.5},{"x":85.44852,"y":0.15},{"x":85.44855,"y":-0.3}],
"p7":[{"x":85.42722,"y":0.4},{"x":85.42726,"y":-0.05},{"x":85.4273,"y":0.65},{"x":85.42734,"y":0.93},{"x":85.42738,"y":-0.3},{"x":85.42742,"y":0.2},{"x":85.42746,"y":0.05},{"x":85.4275,"y":0.35},{"x":85.42754,"y":-0.25},{"x":85.42758,"y":0.5},{"x":85.42762,"y":-0.35},{"x":85.42766,"y":0.15},{"x":85.4277,"y":0.6},{"x":85.42774,"y":-0.2},{"x":85.42778,"y":0.3},{"x":85.42782,"y":0.8},{"x":85.42786,"y":0.1},{"x":85.4279,"y":-0.5},{"x":85.42794,"y":0.45},{"x":85.42797,"y":1.16},{"x":85.428,"y":0.05},{"x":85.42804,"y":-0.35},{"x":85.42808,"y":0.6},{"x":85.42812,"y":0.25},{"x":85.42816,"y":-0.6},{"x":85.4282,"y":0.1},{"x":85.42824,"y":0.4},{"x":85.42828,"y":-0.15},{"x":85.42832,"y":0.05},{"x":85.42836,"y":-0.7},{"x":85.4284,"y":0.3},{"x":85.42844,"y":0.55},{"x":85.42848,"y":-0.3},{"x":85.42852,"y":0.15},{"x":85.42856,"y":0.02},{"x":85.4286,"y":-0.45},{"x":85.42864,"y":0.7},{"x":85.42868,"y":0.05},{"x":85.42871,"y":1.16},{"x":85.42875,"y":0.35},{"x":85.4288,"y":-0.25},{"x":85.42884,"y":0.1},{"x":85.42888,"y":0.2},{"x":85.42892,"y":-0.35},{"x":85.42896,"y":0.45},{"x":85.429,"y":0.12},{"x":85.42904,"y":-0.1},{"x":85.42908,"y":0.6},{"x":85.42912,"y":0.3},{"x":85.42916,"y":-0.2},{"x":85.4292,"y":0.05},{"x":85.42925,"y":0.7},{"x":85.4293,"y":0.4},{"x":85.42935,"y":0.93},{"x":85.4294,"y":0.75},{"x":85.42945,"y":0.2},{"x":85.4295,"y":0.5},{"x":85.42953,"y":0.35},{"x":85.42963,"y":1.76},{"x":85.42968,"y":-0.35},{"x":85.42972,"y":0.55},{"x":85.42976,"y":-0.4},{"x":85.4298,"y":0.2},{"x":85.42984,"y":0.05},{"x":85.42988,"y":-0.3},{"x":85.42992,"y":0.45},{"x":85.42996,"y":0.1},{"x":85.43,"y":-0.15},{"x":85.43004,"y":0.3},{"x":85.43008,"y":0.05},{"x":85.43012,"y":0.35},{"x":85.43016,"y":-0.2},{"x":85.4302,"y":0.4},{"x":85.43024,"y":0.1},{"x":85.43028,"y":0.25},{"x":85.43032,"y":-0.1},{"x":85.43036,"y":0.3},{"x":85.4304,"y":0.05},{"x":85.43045,"y":-0.25},{"x":85.4305,"y":0.35},{"x":85.43055,"y":0.15},{"x":85.4306,"y":0.02},{"x":85.43065,"y":0.3},{"x":85.43072,"y":0.1},{"x":85.43101,"y":0.3},{"x":85.43105,"y":-0.3},{"x":85.4311,"y":0.15},{"x":85.43115,"y":0.5},{"x":85.4312,"y":0.6},{"x":85.43125,"y":-0.15},{"x":85.4313,"y":0.25},{"x":85.43135,"y":0.05},{"x":85.4314,"y":0.4},{"x":85.43145,"y":0.85},{"x":85.4315,"y":1.13},{"x":85.43155,"y":0.6},{"x":85.4316,"y":0.45},{"x":85.43165,"y":0.2},{"x":85.4317,"y":0.1},{"x":85.43173,"y":-0.55},{"x":85.43176,"y":-0.85},{"x":85.4318,"y":-0.3},{"x":85.43184,"y":0.05},{"x":85.43188,"y":0.3},{"x":85.43192,"y":-0.15},{"x":85.43196,"y":0.45},{"x":85.432,"y":0.15},{"x":85.43205,"y":0.55},{"x":85.4321,"y":0.2},{"x":85.43215,"y":-0.45},{"x":85.4322,"y":0.05},{"x":85.43225,"y":0.35},{"x":85.4323,"y":-0.6},{"x":85.43235,"y":-0.96},{"x":85.4324,"y":0.25},{"x":85.43244,"y":0.4},{"x":85.43247,"y":1.08},{"x":85.4325,"y":-0.3},{"x":85.43255,"y":0.5},{"x":85.4326,"y":0.1},{"x":85.43265,"y":0.4},{"x":85.43324,"y":0.1},{"x":85.43328,"y":-0.15},{"x":85.43332,"y":0.2},{"x":85.43336,"y":-0.3},{"x":85.4334,"y":0.05},{"x":85.43344,"y":0.15},{"x":85.43348,"y":-0.72},{"x":85.43352,"y":0.3},{"x":85.43356,"y":0.05},{"x":85.4336,"y":-0.4},{"x":85.43366,"y":-0.96},{"x":85.4337,"y":0.45},{"x":85.43374,"y":0.2},{"x":85.43378,"y":-0.25},{"x":85.43382,"y":0.1},{"x":85.43386,"y":0.3},{"x":85.4339,"y":-0.5},{"x":85.43394,"y":0.02},{"x":85.43398,"y":0.15},{"x":85.43402,"y":-0.1},{"x":85.43406,"y":0.35},{"x":85.4341,"y":0.2},{"x":85.43414,"y":-0.2},{"x":85.43418,"y":0.05},{"x":85.43422,"y":0.5},{"x":85.43426,"y":-0.3},{"x":85.4343,"y":0.1},{"x":85.43433,"y":0.93},{"x":85.43436,"y":0.4},{"x":85.4344,"y":-0.82},{"x":85.43444,"y":0.25},{"x":85.43448,"y":-0.4},{"x":85.43452,"y":0.2},{"x":85.43456,"y":0.5},{"x":85.4346,"y":0.1},{"x":85.43464,"y":-0.1},{"x":85.43468,"y":0.45},{"x":85.43472,"y":0.3},{"x":85.43476,"y":-0.25},{"x":85.4348,"y":0.2},{"x":85.43484,"y":0.05},{"x":85.43488,"y":0.4},{"x":85.43492,"y":0.25},{"x":85.43496,"y":0.1},{"x":85.435,"y":0.6},{"x":85.43502,"y":0.3},{"x":85.43584,"y":0.4},{"x":85.43585,"y":0.2},{"x":85.43586,"y":0.05},
{"x":85.4365,"y":0.5},{"x":85.43655,"y":0.7},{"x":85.4366,"y":0.35},{"x":85.43665,"y":0.55},{"x":85.4367,"y":0.25},{"x":85.43675,"y":0.6},{"x":85.4368,"y":0.4},{"x":85.43685,"y":0.8},{"x":85.4369,"y":0.3},{"x":85.43695,"y":0.5},{"x":85.437,"y":0.2},{"x":85.43705,"y":0.65},{"x":85.4371,"y":-0.14},{"x":85.43715,"y":0.9},{"x":85.4372,"y":0.45},{"x":85.43725,"y":0.3},{"x":85.4373,"y":0.6},{"x":85.43735,"y":0.15},{"x":85.4374,"y":0.5},{"x":85.43745,"y":0.35},{"x":85.4375,"y":0.7},{"x":85.43755,"y":0.4},{"x":85.4376,"y":0.25},{"x":85.43765,"y":0.55},{"x":85.4377,"y":0.1},{"x":85.43777,"y":-0.23},{"x":85.4378,"y":0.45},{"x":85.43785,"y":0.6},{"x":85.4379,"y":0.3},{"x":85.43795,"y":0.15},{"x":85.438,"y":0.5},{"x":85.43805,"y":0.35},{"x":85.4381,"y":0.6},{"x":85.43815,"y":0.2},{"x":85.4382,"y":0.45},{"x":85.43825,"y":0.05},{"x":85.4383,"y":0.3},{"x":85.43835,"y":-0.05},{"x":85.4384,"y":0.55},{"x":85.43845,"y":0.15},{"x":85.4385,"y":0.4},{"x":85.43855,"y":0.25},{"x":85.4386,"y":-0.06},{"x":85.43865,"y":0.1},{"x":85.4387,"y":0.35},{"x":85.43875,"y":0.5},{"x":85.4388,"y":0.2},{"x":85.43885,"y":0.05},{"x":85.4389,"y":0.3},{"x":85.43895,"y":0.55},{"x":85.439,"y":0.2},{"x":85.43905,"y":0.6},{"x":85.4391,"y":0.42},{"x":85.43915,"y":0.75},{"x":85.4392,"y":0.5},{"x":85.43925,"y":0.82},{"x":85.4393,"y":0.6},{"x":85.43935,"y":0.9},{"x":85.4394,"y":0.55},{"x":85.43945,"y":0.78},{"x":85.4395,"y":0.65},{"x":85.43955,"y":0.88},{"x":85.4396,"y":0.58},{"x":85.43965,"y":0.8},{"x":85.4397,"y":0.7},{"x":85.43975,"y":0.92},{"x":85.4398,"y":0.6},{"x":85.43985,"y":0.78},{"x":85.4399,"y":0.68},{"x":85.43995,"y":0.85},{"x":85.44,"y":0.55},{"x":85.44005,"y":0.8},{"x":85.4401,"y":0.62},{"x":85.44015,"y":0.88},{"x":85.4402,"y":0.5},{"x":85.44025,"y":0.75},{"x":85.4403,"y":0.6},{"x":85.44035,"y":0.4},{"x":85.4404,"y":0.7},{"x":85.44045,"y":0.3},{"x":85.4405,"y":0.58},{"x":85.44055,"y":0.22},{"x":85.4406,"y":0.48},{"x":85.44065,"y":0.15},{"x":85.4407,"y":0.4},{"x":85.44075,"y":0.1},{"x":85.4408,"y":0.35},{"x":85.44085,"y":0.05},{"x":85.4409,"y":0.28},{"x":85.44095,"y":0.02},{"x":85.441,"y":0.3},{"x":85.44105,"y":-0.06},{"x":85.4411,"y":0.2},{"x":85.44115,"y":0.0},{"x":85.4412,"y":0.25},{"x":85.44125,"y":-0.08},{"x":85.4413,"y":0.15},{"x":85.44135,"y":0.05},{"x":85.4414,"y":0.3},{"x":85.44145,"y":-0.05},{"x":85.4415,"y":0.22},{"x":85.44155,"y":0.02},{"x":85.4416,"y":0.35},{"x":85.44165,"y":-0.1},{"x":85.4417,"y":0.28},{"x":85.44175,"y":0.1},{"x":85.4418,"y":0.45},{"x":85.44185,"y":0.15},{"x":85.4419,"y":0.4},{"x":85.44195,"y":0.3},{"x":85.442,"y":0.55},{"x":85.44205,"y":1.51},{"x":85.4421,"y":0.35},{"x":85.44215,"y":0.15},{"x":85.4422,"y":0.6},{"x":85.44225,"y":-0.1},{"x":85.4423,"y":0.4},{"x":85.44235,"y":0.25},{"x":85.4424,"y":0.55},{"x":85.44245,"y":0.1},{"x":85.4425,"y":0.7},{"x":85.44255,"y":0.3},{"x":85.4426,"y":-0.12},{"x":85.44265,"y":0.45},{"x":85.4427,"y":0.2},{"x":85.44275,"y":0.6},{"x":85.4428,"y":0.05},{"x":85.44285,"y":0.35},{"x":85.4429,"y":0.5},{"x":85.44295,"y":0.15},{"x":85.443,"y":0.4},{"x":85.44304,"y":0.75},{"x":85.44308,"y":1.35},{"x":85.44312,"y":0.25},{"x":85.44316,"y":0.55},{"x":85.4432,"y":0.1},{"x":85.44324,"y":0.45},{"x":85.44328,"y":0.3},{"x":85.44332,"y":0.6},{"x":85.44336,"y":1.19},{"x":85.4434,"y":0.2},{"x":85.44345,"y":0.5},{"x":85.4435,"y":0.35},{"x":85.44355,"y":0.65},{"x":85.4436,"y":0.15},{"x":85.44365,"y":0.45},{"x":85.4437,"y":0.25},{"x":85.44375,"y":0.55},{"x":85.4438,"y":0.4},{"x":85.44385,"y":0.05},{"x":85.4439,"y":0.6},{"x":85.44395,"y":0.3},{"x":85.444,"y":0.45},{"x":85.44405,"y":0.2},{"x":85.4441,"y":0.55},{"x":85.44415,"y":0.35},{"x":85.4442,"y":0.15},{"x":85.44425,"y":0.5},{"x":85.4443,"y":0.25},{"x":85.44435,"y":0.4},{"x":85.4444,"y":0.05},{"x":85.44445,"y":0.3},{"x":85.4445,"y":0.15},{"x":85.44455,"y":0.45},{"x":85.4446,"y":0.25},{"x":85.44465,"y":0.35},{"x":85.4447,"y":0.1},{"x":85.44475,"y":0.3},{"x":85.4448,"y":0.2},{"x":85.44485,"y":0.4},{"x":85.4449,"y":0.05},{"x":85.44495,"y":0.25},{"x":85.445,"y":0.15},{"x":85.44505,"y":0.3},{"x":85.4451,"y":0.1},{"x":85.44515,"y":0.2},{"x":85.4452,"y":0.35},{"x":85.44525,"y":0.05},{"x":85.4453,"y":0.15},{"x":85.44535,"y":0.3},{"x":85.4454,"y":0.1},{"x":85.44545,"y":0.2},{"x":85.4455,"y":-0.2},{"x":85.44555,"y":0.1},{"x":85.4456,"y":0.3},{"x":85.44565,"y":0.5},{"x":85.4457,"y":-0.67},{"x":85.44572,"y":1.93},{"x":85.44575,"y":0.55},{"x":85.44578,"y":-0.87},{"x":85.44582,"y":-0.4},{"x":85.44586,"y":-0.5},{"x":85.4459,"y":-0.72},{"x":85.44594,"y":0.2},
{"x":85.44676,"y":0.88},{"x":85.4468,"y":0.3},{"x":85.44684,"y":-0.15},{"x":85.44688,"y":0.2},{"x":85.44692,"y":-0.3},{"x":85.44696,"y":0.05},{"x":85.447,"y":-0.4},{"x":85.44704,"y":0.25},{"x":85.44708,"y":-0.35},{"x":85.44712,"y":0.35},{"x":85.44716,"y":0.3},{"x":85.4478,"y":0.45},{"x":85.448,"y":-0.4},{"x":85.44804,"y":-0.6},{"x":85.44808,"y":-0.55},{"x":85.44812,"y":-0.45},{"x":85.44816,"y":-0.35},{"x":85.4482,"y":0.05},{"x":85.44824,"y":0.2},{"x":85.44828,"y":-0.3},{"x":85.44832,"y":0.35},{"x":85.44836,"y":0.15},{"x":85.4484,"y":-0.25},{"x":85.44844,"y":0.3},{"x":85.44848,"y":0.1},{"x":85.44852,"y":-0.2},{"x":85.44856,"y":0.25}]
},
"vconcat":[
{"width":1032,"height":216,"layer":[
{"data":{"values":[{}]},"mark":{"type":"rect","fill":"#5a82b9","opacity":0.2},"encoding":{"x":{"datum":85.43602,"type":"quantitative"},"x2":{"datum":85.44631}}},
{"data":{"values":[{}]},"mark":{"type":"rect","fill":"transparent","stroke":"#2b2b2b","strokeWidth":1.5},"encoding":{"x":{"datum":85.427105,"type":"quantitative"},"x2":{"datum":85.4495},"y":{"datum":2.799,"type":"quantitative"},"y2":{"datum":-2.119}}},
{"data":{"values":[{}]},"mark":{"type":"rect","fill":"transparent","stroke":"#2b2b2b","strokeWidth":1.5},"encoding":{"x":{"datum":85.426634,"type":"quantitative"},"x2":{"datum":85.427053},"y":{"datum":2.799,"type":"quantitative"},"y2":{"datum":-2.119}}},
{"data":{"name":"p1"},"mark":{"type":"point","shape":"M-1,0H1M0,-1V1","filled":false,"size":90,"strokeWidth":1.6,"opacity":1},"encoding":{"x":{"field":"x","type":"quantitative","scale":{"domain":[85.427105,85.4487],"nice":false,"zero":false},"axis":{"orient":"top","values":[85.428,85.433,85.438,85.443,85.448],"labelExpr":"format(datum.value,'.3f') + ' Mb'","ticks":false,"domain":false,"grid":false,"title":null,"labelFont":"DejaVu Sans","labelFontSize":14,"labelColor":"#222222","labelBaseline":"alphabetic","labelPadding":1.6,"labelFlush":false,"labelOverlap":false}},"y":{"field":"y","type":"quantitative","scale":{"domain":[-2.472,2.976],"nice":false,"zero":false},"axis":{"values":[-2,-1,0,1,2],"title":"Log₂ Ratio","titleX":-41,"titleY":95.5}},"color":{"condition":{"test":"datum.y >= 0","value":"#f01e1e"},"value":"#16e616"}}},
{"data":{"values":[{}]},"mark":{"type":"text","text":"Patient 4","font":"Lato","fontSize":30,"fontWeight":"bold","align":"center","baseline":"alphabetic","color":"#000000"},"encoding":{"x":{"datum":85.44091,"type":"quantitative"},"y":{"datum":1.10,"type":"quantitative"}}}
]},
{"width":1032,"height":229,"layer":[
{"data":{"values":[{}]},"mark":{"type":"rect","fill":"#5a82b9","opacity":0.2},"encoding":{"x":{"datum":85.43602,"type":"quantitative","axis":null},"x2":{"datum":85.44631}}},
{"data":{"values":[{}]},"mark":{"type":"rect","fill":"transparent","stroke":"#2b2b2b","strokeWidth":1.5},"encoding":{"x":{"datum":85.427105,"type":"quantitative","axis":null},"x2":{"datum":85.4495},"y":{"datum":2.770,"type":"quantitative"},"y2":{"datum":-2.156}}},
{"data":{"values":[{}]},"mark":{"type":"rect","fill":"transparent","stroke":"#2b2b2b","strokeWidth":1.5},"encoding":{"x":{"datum":85.426634,"type":"quantitative","axis":null},"x2":{"datum":85.427053},"y":{"datum":2.770,"type":"quantitative"},"y2":{"datum":-2.156}}},
{"data":{"name":"p2"},"mark":{"type":"point","shape":"M-1,0H1M0,-1V1","filled":false,"size":90,"strokeWidth":1.6,"opacity":1},"encoding":{"x":{"field":"x","type":"quantitative","scale":{"domain":[85.427105,85.4487],"nice":false,"zero":false},"axis":null},"y":{"field":"y","type":"quantitative","scale":{"domain":[-2.652,3.115],"nice":false,"zero":false},"axis":{"values":[-2,-1,0,1,2],"title":"Log₂ Ratio","titleX":-41,"titleY":112.5}},"color":{"condition":{"test":"datum.y >= 0","value":"#f01e1e"},"value":"#16e616"}}},
{"data":{"values":[{}]},"mark":{"type":"text","text":"Control_A1","font":"Lato","fontSize":30,"fontWeight":"bold","align":"center","baseline":"alphabetic","color":"#000000"},"encoding":{"x":{"datum":85.44125,"type":"quantitative","axis":null},"y":{"datum":1.226,"type":"quantitative"}}}
]},
{"width":1032,"height":235,"layer":[
{"data":{"values":[{}]},"mark":{"type":"rect","fill":"#5a82b9","opacity":0.2},"encoding":{"x":{"datum":85.43602,"type":"quantitative","axis":null},"x2":{"datum":85.44631}}},
{"data":{"values":[{}]},"mark":{"type":"rect","fill":"transparent","stroke":"#2b2b2b","strokeWidth":1.5},"encoding":{"x":{"datum":85.427105,"type":"quantitative","axis":null},"x2":{"datum":85.4495},"y":{"datum":2.780,"type":"quantitative"},"y2":{"datum":-2.125}}},
{"data":{"values":[{}]},"mark":{"type":"rect","fill":"transparent","stroke":"#2b2b2b","strokeWidth":1.5},"encoding":{"x":{"datum":85.426634,"type":"quantitative","axis":null},"x2":{"datum":85.427053},"y":{"datum":2.780,"type":"quantitative"},"y2":{"datum":-2.125}}},
{"data":{"name":"p3"},"mark":{"type":"point","shape":"M-1,0H1M0,-1V1","filled":false,"size":90,"strokeWidth":1.6,"opacity":1},"encoding":{"x":{"field":"x","type":"quantitative","scale":{"domain":[85.427105,85.4487],"nice":false,"zero":false},"axis":null},"y":{"field":"y","type":"quantitative","scale":{"domain":[-2.484,3.262],"nice":false,"zero":false},"axis":{"values":[-2,-1,0,1,2],"title":"Log₂ Ratio","titleX":-41,"titleY":133.5}},"color":{"condition":{"test":"datum.y >= 0","value":"#f01e1e"},"value":"#16e616"}}},
{"data":{"values":[{}]},"mark":{"type":"text","text":"Control _A2","font":"Lato","fontSize":30,"fontWeight":"bold","align":"center","baseline":"alphabetic","color":"#000000"},"encoding":{"x":{"datum":85.44139,"type":"quantitative","axis":null},"y":{"datum":1.298,"type":"quantitative"}}}
]},
{"width":1032,"height":245,"layer":[
{"data":{"values":[{}]},"mark":{"type":"rect","fill":"#5a82b9","opacity":0.2},"encoding":{"x":{"datum":85.43602,"type":"quantitative","axis":null},"x2":{"datum":85.44631}}},
{"data":{"values":[{}]},"mark":{"type":"rect","fill":"transparent","stroke":"#2b2b2b","strokeWidth":1.5},"encoding":{"x":{"datum":85.427105,"type":"quantitative","axis":null},"x2":{"datum":85.4495},"y":{"datum":2.956,"type":"quantitative"},"y2":{"datum":-2.194}}},
{"data":{"values":[{}]},"mark":{"type":"rect","fill":"transparent","stroke":"#2b2b2b","strokeWidth":1.5},"encoding":{"x":{"datum":85.426634,"type":"quantitative","axis":null},"x2":{"datum":85.427053},"y":{"datum":2.956,"type":"quantitative"},"y2":{"datum":-2.194}}},
{"data":{"values":[{}]},"mark":{"type":"rule","stroke":"#dcdcdc","strokeWidth":3},"encoding":{"y":{"datum":2.956,"type":"quantitative"}}},
{"data":{"name":"p4"},"mark":{"type":"point","shape":"M-1,0H1M0,-1V1","filled":false,"size":90,"strokeWidth":1.6,"opacity":1},"encoding":{"x":{"field":"x","type":"quantitative","scale":{"domain":[85.427105,85.4487],"nice":false,"zero":false},"axis":null},"y":{"field":"y","type":"quantitative","scale":{"domain":[-2.587,3.325],"nice":false,"zero":false},"axis":{"values":[-2,-1,0,1,2],"title":"Log₂ Ratio","titleX":-41,"titleY":132}},"color":{"condition":{"test":"datum.y >= 0","value":"#f01e1e"},"value":"#16e616"}}},
{"data":{"values":[{}]},"mark":{"type":"text","text":"Control_A3","font":"Lato","fontSize":30,"fontWeight":"bold","align":"center","baseline":"alphabetic","color":"#000000"},"encoding":{"x":{"datum":85.44137,"type":"quantitative","axis":null},"y":{"datum":1.25,"type":"quantitative"}}}
]},
{"width":1032,"height":239,"layer":[
{"data":{"values":[{}]},"mark":{"type":"rect","fill":"#5a82b9","opacity":0.2},"encoding":{"x":{"datum":85.43602,"type":"quantitative","axis":null},"x2":{"datum":85.44631}}},
{"data":{"values":[{}]},"mark":{"type":"rect","fill":"transparent","stroke":"#2b2b2b","strokeWidth":1.5},"encoding":{"x":{"datum":85.427105,"type":"quantitative","axis":null},"x2":{"datum":85.4495},"y":{"datum":2.945,"type":"quantitative"},"y2":{"datum":-2.207}}},
{"data":{"values":[{}]},"mark":{"type":"rect","fill":"transparent","stroke":"#2b2b2b","strokeWidth":1.5},"encoding":{"x":{"datum":85.426634,"type":"quantitative","axis":null},"x2":{"datum":85.427053},"y":{"datum":2.945,"type":"quantitative"},"y2":{"datum":-2.207}}},
{"data":{"values":[{}]},"mark":{"type":"rule","stroke":"#dcdcdc","strokeWidth":3},"encoding":{"y":{"datum":2.945,"type":"quantitative"}}},
{"data":{"name":"p5"},"mark":{"type":"point","shape":"M-1,0H1M0,-1V1","filled":false,"size":90,"strokeWidth":1.6,"opacity":1},"encoding":{"x":{"field":"x","type":"quantitative","scale":{"domain":[85.427105,85.4487],"nice":false,"zero":false},"axis":null},"y":{"field":"y","type":"quantitative","scale":{"domain":[-2.553,3.366],"nice":false,"zero":false},"axis":{"values":[-2,-1,0,1,2],"title":"Log₂ Ratio","titleX":-41,"titleY":133.5}},"color":{"condition":{"test":"datum.y >= 0","value":"#f01e1e"},"value":"#16e616"}}},
{"data":{"values":[{}]},"mark":{"type":"text","text":"Control_A4","font":"Lato","fontSize":30,"fontWeight":"bold","align":"center","baseline":"alphabetic","color":"#000000"},"encoding":{"x":{"datum":85.44137,"type":"quantitative","axis":null},"y":{"datum":2.449,"type":"quantitative"}}}
]},
{"width":1032,"height":209,"layer":[
{"data":{"values":[{}]},"mark":{"type":"rect","fill":"#5a82b9","opacity":0.2},"encoding":{"x":{"datum":85.43602,"type":"quantitative","axis":null},"x2":{"datum":85.44631}}},
{"data":{"values":[{}]},"mark":{"type":"rect","fill":"transparent","stroke":"#2b2b2b","strokeWidth":1.5},"encoding":{"x":{"datum":85.427105,"type":"quantitative","axis":null},"x2":{"datum":85.4495},"y":{"datum":2.968,"type":"quantitative"},"y2":{"datum":-2.212}}},
{"data":{"values":[{}]},"mark":{"type":"rect","fill":"transparent","stroke":"#2b2b2b","strokeWidth":1.5},"encoding":{"x":{"datum":85.426634,"type":"quantitative","axis":null},"x2":{"datum":85.427053},"y":{"datum":2.968,"type":"quantitative"},"y2":{"datum":-2.212}}},
{"data":{"values":[{}]},"mark":{"type":"rule","stroke":"#dcdcdc","strokeWidth":3},"encoding":{"y":{"datum":2.968,"type":"quantitative"}}},
{"data":{"name":"p6"},"mark":{"type":"point","shape":"M-1,0H1M0,-1V1","filled":false,"size":90,"strokeWidth":1.6,"opacity":1},"encoding":{"x":{"field":"x","type":"quantitative","scale":{"domain":[85.427105,85.4487],"nice":false,"zero":false},"axis":null},"y":{"field":"y","type":"quantitative","scale":{"domain":[-2.62,3.338],"nice":false,"zero":false},"axis":{"values":[-2,-1,0,1,2],"title":"Log₂ Ratio","titleX":-41,"titleY":109}},"color":{"condition":{"test":"datum.y >= 0","value":"#f01e1e"},"value":"#16e616"}}},
{"data":{"values":[{}]},"mark":{"type":"text","text":"Control_A5","font":"Lato","fontSize":30,"fontWeight":"bold","align":"center","baseline":"alphabetic","color":"#000000"},"encoding":{"x":{"datum":85.44137,"type":"quantitative","axis":null},"y":{"datum":2.255,"type":"quantitative"}}}
]},
{"width":1032,"height":190,"layer":[
{"data":{"values":[{}]},"mark":{"type":"rect","fill":"#5a82b9","opacity":0.2},"encoding":{"x":{"datum":85.43602,"type":"quantitative","axis":null},"x2":{"datum":85.44631}}},
{"data":{"values":[{}]},"mark":{"type":"rect","fill":"transparent","stroke":"#2b2b2b","strokeWidth":1.5},"encoding":{"x":{"datum":85.427105,"type":"quantitative","axis":null},"x2":{"datum":85.4495},"y":{"datum":2.924,"type":"quantitative"},"y2":{"datum":-2.25}}},
{"data":{"values":[{}]},"mark":{"type":"rect","fill":"transparent","stroke":"#2b2b2b","strokeWidth":1.5},"encoding":{"x":{"datum":85.426634,"type":"quantitative","axis":null},"x2":{"datum":85.427053},"y":{"datum":2.924,"type":"quantitative"},"y2":{"datum":-2.25}}},
{"data":{"values":[{}]},"mark":{"type":"rule","stroke":"#dcdcdc","strokeWidth":3},"encoding":{"y":{"datum":2.924,"type":"quantitative"}}},
{"data":{"name":"p7"},"mark":{"type":"point","shape":"M-1,0H1M0,-1V1","filled":false,"size":90,"strokeWidth":1.6,"opacity":1},"encoding":{"x":{"field":"x","type":"quantitative","scale":{"domain":[85.427105,85.4487],"nice":false,"zero":false},"axis":null},"y":{"field":"y","type":"quantitative","scale":{"domain":[-2.207,3.332],"nice":false,"zero":false},"axis":{"values":[-2,-1,0,1,2],"title":"Log₂ Ratio","titleX":-41,"titleY":114}},"color":{"condition":{"test":"datum.y >= 0","value":"#f01e1e"},"value":"#16e616"}}},
{"data":{"values":[{}]},"mark":{"type":"text","text":"Control_A6","font":"Lato","fontSize":30,"fontWeight":"bold","align":"center","baseline":"alphabetic","color":"#000000"},"encoding":{"x":{"datum":85.44147,"type":"quantitative","axis":null},"y":{"datum":2.099,"type":"quantitative"}}}
]}
]
}
